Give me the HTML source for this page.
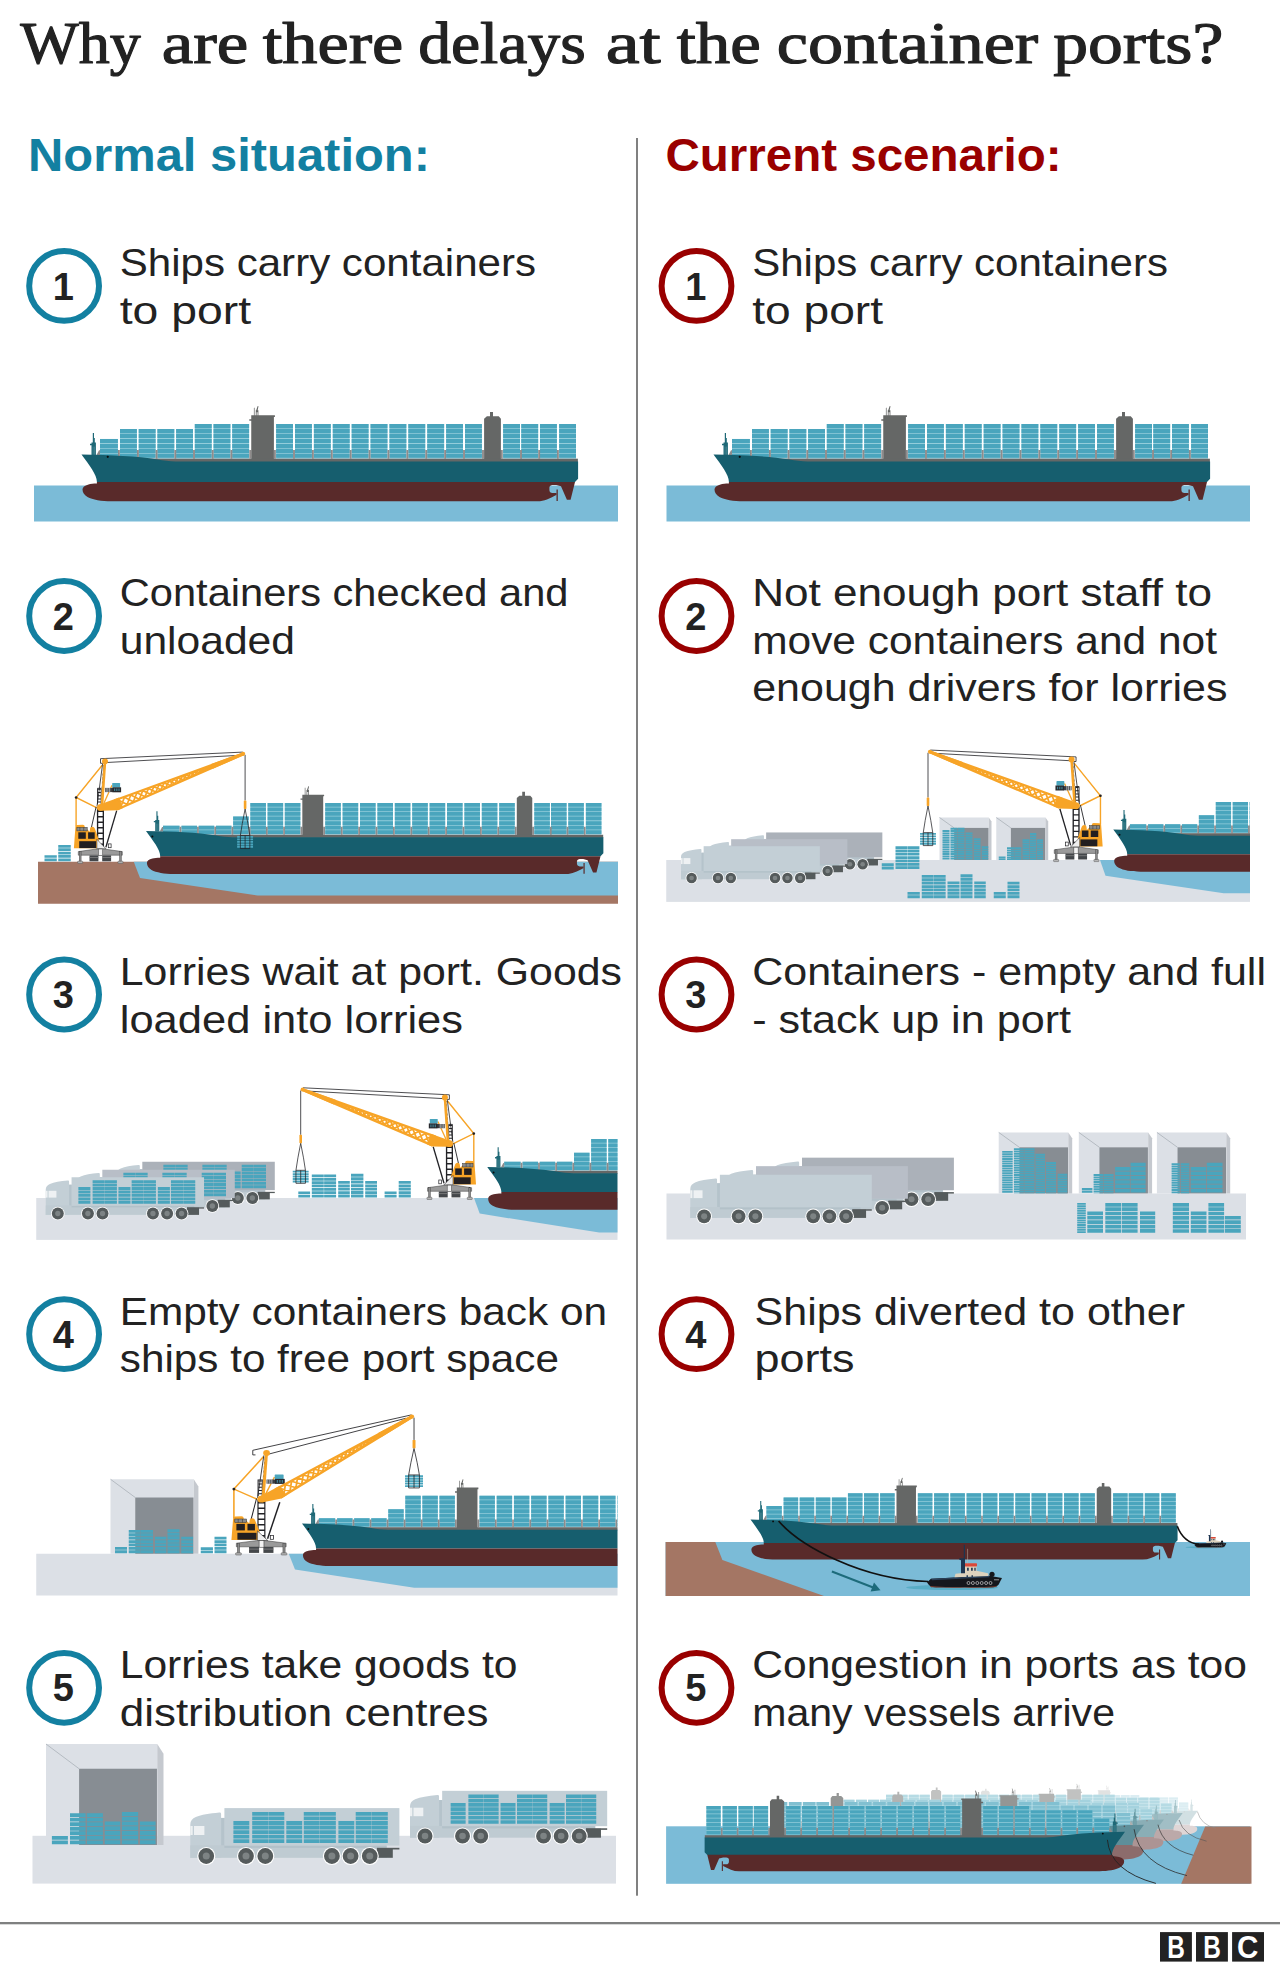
<!DOCTYPE html>
<html lang="en"><head><meta charset="utf-8"><title>Why are there delays at the container ports?</title>
<style>
html,body{margin:0;padding:0;background:#fff}
body{width:1280px;height:1968px;overflow:hidden;position:relative}
svg{display:block;position:absolute;left:0;top:0}
</style></head><body>
<svg width="1280" height="1968" viewBox="0 0 1280 1968">
<defs>
<filter id="fog1" x="0" y="0" width="1" height="1" color-interpolation-filters="sRGB"><feComponentTransfer><feFuncR type="linear" slope="0.69" intercept="0.31"/><feFuncG type="linear" slope="0.69" intercept="0.31"/><feFuncB type="linear" slope="0.69" intercept="0.31"/></feComponentTransfer></filter>
<filter id="fog2" x="0" y="0" width="1" height="1" color-interpolation-filters="sRGB"><feComponentTransfer><feFuncR type="linear" slope="0.5" intercept="0.5"/><feFuncG type="linear" slope="0.5" intercept="0.5"/><feFuncB type="linear" slope="0.5" intercept="0.5"/></feComponentTransfer></filter>
<filter id="fog3" x="0" y="0" width="1" height="1" color-interpolation-filters="sRGB"><feComponentTransfer><feFuncR type="linear" slope="0.4" intercept="0.6"/><feFuncG type="linear" slope="0.4" intercept="0.6"/><feFuncB type="linear" slope="0.4" intercept="0.6"/></feComponentTransfer></filter>
<filter id="fog4" x="0" y="0" width="1" height="1" color-interpolation-filters="sRGB"><feComponentTransfer><feFuncR type="linear" slope="0.19" intercept="0.81"/><feFuncG type="linear" slope="0.19" intercept="0.81"/><feFuncB type="linear" slope="0.19" intercept="0.81"/></feComponentTransfer></filter>
<clipPath id="c2r"><rect x="600" y="700" width="650" height="300"/></clipPath>
<clipPath id="c3l"><rect x="0" y="1050" width="617.5" height="250"/></clipPath>
<clipPath id="c4l"><rect x="0" y="1380" width="617.5" height="250"/></clipPath>
</defs>
<rect x="636" y="138" width="2" height="1757.7" fill="#808080"/>
<rect x="0" y="1922" width="1280" height="2.3" fill="#7f8080"/>
<text y="62.5" font-family='"Liberation Serif", serif' font-size="60" fill="#222" stroke="#222" stroke-width="1.15" stroke-linejoin="round"><tspan x="20.2" textLength="120.6" lengthAdjust="spacingAndGlyphs">Why</tspan> <tspan x="161.7" textLength="86.6" lengthAdjust="spacingAndGlyphs">are</tspan> <tspan x="262.7" textLength="140.6" lengthAdjust="spacingAndGlyphs">there</tspan> <tspan x="418.2" textLength="167.6" lengthAdjust="spacingAndGlyphs">delays</tspan> <tspan x="605.7" textLength="55.1" lengthAdjust="spacingAndGlyphs">at</tspan> <tspan x="676.7" textLength="84.1" lengthAdjust="spacingAndGlyphs">the</tspan> <tspan x="776.7" textLength="261.6" lengthAdjust="spacingAndGlyphs">container</tspan> <tspan x="1053.2" textLength="170.1" lengthAdjust="spacingAndGlyphs">ports?</tspan></text>
<text x="28" y="171.3" font-family='"Liberation Sans", sans-serif' font-size="46" fill="#1380a1" textLength="402" lengthAdjust="spacingAndGlyphs" font-weight="bold">Normal situation:</text>
<text x="665.5" y="171.3" font-family='"Liberation Sans", sans-serif' font-size="46" fill="#990000" textLength="396" lengthAdjust="spacingAndGlyphs" font-weight="bold">Current scenario:</text>
<circle cx="64.1" cy="285.9" r="34.9" fill="#fff" stroke="#1380a1" stroke-width="6"/>
<text x="63.3" y="299.5" font-family='"Liberation Sans", sans-serif' font-size="38" fill="#222222" text-anchor="middle" font-weight="bold">1</text>
<circle cx="696.5" cy="285.9" r="34.9" fill="#fff" stroke="#990000" stroke-width="6"/>
<text x="695.7" y="299.5" font-family='"Liberation Sans", sans-serif' font-size="38" fill="#222222" text-anchor="middle" font-weight="bold">1</text>
<circle cx="64.1" cy="616" r="34.9" fill="#fff" stroke="#1380a1" stroke-width="6"/>
<text x="63.3" y="629.6" font-family='"Liberation Sans", sans-serif' font-size="38" fill="#222222" text-anchor="middle" font-weight="bold">2</text>
<circle cx="696.5" cy="616" r="34.9" fill="#fff" stroke="#990000" stroke-width="6"/>
<text x="695.7" y="629.6" font-family='"Liberation Sans", sans-serif' font-size="38" fill="#222222" text-anchor="middle" font-weight="bold">2</text>
<circle cx="64.1" cy="994.5" r="34.9" fill="#fff" stroke="#1380a1" stroke-width="6"/>
<text x="63.3" y="1008.1" font-family='"Liberation Sans", sans-serif' font-size="38" fill="#222222" text-anchor="middle" font-weight="bold">3</text>
<circle cx="696.5" cy="994.5" r="34.9" fill="#fff" stroke="#990000" stroke-width="6"/>
<text x="695.7" y="1008.1" font-family='"Liberation Sans", sans-serif' font-size="38" fill="#222222" text-anchor="middle" font-weight="bold">3</text>
<circle cx="64.1" cy="1334.2" r="34.9" fill="#fff" stroke="#1380a1" stroke-width="6"/>
<text x="63.3" y="1347.8" font-family='"Liberation Sans", sans-serif' font-size="38" fill="#222222" text-anchor="middle" font-weight="bold">4</text>
<circle cx="696.5" cy="1334.2" r="34.9" fill="#fff" stroke="#990000" stroke-width="6"/>
<text x="695.7" y="1347.8" font-family='"Liberation Sans", sans-serif' font-size="38" fill="#222222" text-anchor="middle" font-weight="bold">4</text>
<circle cx="64.1" cy="1687.8" r="34.9" fill="#fff" stroke="#1380a1" stroke-width="6"/>
<text x="63.3" y="1701.4" font-family='"Liberation Sans", sans-serif' font-size="38" fill="#222222" text-anchor="middle" font-weight="bold">5</text>
<circle cx="696.5" cy="1687.8" r="34.9" fill="#fff" stroke="#990000" stroke-width="6"/>
<text x="695.7" y="1701.4" font-family='"Liberation Sans", sans-serif' font-size="38" fill="#222222" text-anchor="middle" font-weight="bold">5</text>
<text x="119.75" y="276.25" font-family='"Liberation Sans", sans-serif' font-size="39.5" fill="#222222" textLength="416.25" lengthAdjust="spacingAndGlyphs">Ships carry containers</text>
<text x="119.75" y="323.75" font-family='"Liberation Sans", sans-serif' font-size="39.5" fill="#222222" textLength="131.25" lengthAdjust="spacingAndGlyphs">to port</text>
<text x="119.75" y="606.3" font-family='"Liberation Sans", sans-serif' font-size="39.5" fill="#222222" textLength="448.75" lengthAdjust="spacingAndGlyphs">Containers checked and</text>
<text x="119.75" y="653.8" font-family='"Liberation Sans", sans-serif' font-size="39.5" fill="#222222" textLength="175.25" lengthAdjust="spacingAndGlyphs">unloaded</text>
<text x="119.75" y="985.2" font-family='"Liberation Sans", sans-serif' font-size="39.5" fill="#222222" textLength="502.25" lengthAdjust="spacingAndGlyphs">Lorries wait at port. Goods</text>
<text x="119.75" y="1032.7" font-family='"Liberation Sans", sans-serif' font-size="39.5" fill="#222222" textLength="343.25" lengthAdjust="spacingAndGlyphs">loaded into lorries</text>
<text x="119.75" y="1324.5" font-family='"Liberation Sans", sans-serif' font-size="39.5" fill="#222222" textLength="487.25" lengthAdjust="spacingAndGlyphs">Empty containers back on</text>
<text x="119.75" y="1372" font-family='"Liberation Sans", sans-serif' font-size="39.5" fill="#222222" textLength="439.25" lengthAdjust="spacingAndGlyphs">ships to free port space</text>
<text x="119.75" y="1678" font-family='"Liberation Sans", sans-serif' font-size="39.5" fill="#222222" textLength="397.75" lengthAdjust="spacingAndGlyphs">Lorries take goods to</text>
<text x="119.75" y="1725.5" font-family='"Liberation Sans", sans-serif' font-size="39.5" fill="#222222" textLength="368.75" lengthAdjust="spacingAndGlyphs">distribution centres</text>
<text x="752.2" y="276.25" font-family='"Liberation Sans", sans-serif' font-size="39.5" fill="#222222" textLength="415.8" lengthAdjust="spacingAndGlyphs">Ships carry containers</text>
<text x="752.2" y="323.75" font-family='"Liberation Sans", sans-serif' font-size="39.5" fill="#222222" textLength="130.8" lengthAdjust="spacingAndGlyphs">to port</text>
<text x="752.2" y="606.3" font-family='"Liberation Sans", sans-serif' font-size="39.5" fill="#222222" textLength="459.8" lengthAdjust="spacingAndGlyphs">Not enough port staff to</text>
<text x="752.2" y="653.8" font-family='"Liberation Sans", sans-serif' font-size="39.5" fill="#222222" textLength="464.8" lengthAdjust="spacingAndGlyphs">move containers and not</text>
<text x="752.2" y="701.3" font-family='"Liberation Sans", sans-serif' font-size="39.5" fill="#222222" textLength="475.3" lengthAdjust="spacingAndGlyphs">enough drivers for lorries</text>
<text x="752.2" y="985.2" font-family='"Liberation Sans", sans-serif' font-size="39.5" fill="#222222" textLength="513.8" lengthAdjust="spacingAndGlyphs">Containers - empty and full</text>
<text x="752.2" y="1032.7" font-family='"Liberation Sans", sans-serif' font-size="39.5" fill="#222222" textLength="318.8" lengthAdjust="spacingAndGlyphs">- stack up in port</text>
<text x="754.5" y="1324.5" font-family='"Liberation Sans", sans-serif' font-size="39.5" fill="#222222" textLength="430.5" lengthAdjust="spacingAndGlyphs">Ships diverted to other</text>
<text x="754.5" y="1372" font-family='"Liberation Sans", sans-serif' font-size="39.5" fill="#222222" textLength="100" lengthAdjust="spacingAndGlyphs">ports</text>
<text x="752.2" y="1678" font-family='"Liberation Sans", sans-serif' font-size="39.5" fill="#222222" textLength="494.8" lengthAdjust="spacingAndGlyphs">Congestion in ports as too</text>
<text x="752.2" y="1725.5" font-family='"Liberation Sans", sans-serif' font-size="39.5" fill="#222222" textLength="362.8" lengthAdjust="spacingAndGlyphs">many vessels arrive</text>
<rect x="34" y="485.5" width="584" height="36" fill="#7bbbd7"/>
<g transform="translate(81.5,454.6) scale(1.0000,1.0000)"><g><path d="M27.45,-15.66v19.76" stroke="#93cddb" stroke-width="17.9" fill="none"/><path d="M27.45,-15.66v19.76" stroke="#4aa5bd" stroke-width="17.9" stroke-dasharray="4.09 0.85" fill="none"/><path d="M46.95,-25.54v29.64M65.65,-25.54v29.64M84.35,-25.54v29.64M103.05,-25.54v29.64M121.75,-30.48v34.58M140.45,-30.48v34.58M159.15,-30.48v34.58M203.05,-30.48v34.58M221.94,-30.48v34.58M240.83,-30.48v34.58M259.72,-30.48v34.58M278.61,-30.48v34.58M297.5,-30.48v34.58M316.39,-30.48v34.58M335.28,-30.48v34.58M354.17,-30.48v34.58M373.06,-30.48v34.58M391.95,-30.48v34.58M430.05,-30.48v34.58M448.2,-30.48v34.58M466.95,-30.48v34.58M486.05,-30.48v34.58" stroke="#93cddb" stroke-width="16.9" fill="none"/><path d="M46.95,-25.54v29.64M65.65,-25.54v29.64M84.35,-25.54v29.64M103.05,-25.54v29.64M121.75,-30.48v34.58M140.45,-30.48v34.58M159.15,-30.48v34.58M203.05,-30.48v34.58M221.94,-30.48v34.58M240.83,-30.48v34.58M259.72,-30.48v34.58M278.61,-30.48v34.58M297.5,-30.48v34.58M316.39,-30.48v34.58M335.28,-30.48v34.58M354.17,-30.48v34.58M373.06,-30.48v34.58M391.95,-30.48v34.58M430.05,-30.48v34.58M448.2,-30.48v34.58M466.95,-30.48v34.58M486.05,-30.48v34.58" stroke="#4aa5bd" stroke-width="16.9" stroke-dasharray="4.09 0.85" fill="none"/><path d="M37.4,-4.5v8.6M56.4,-4.5v8.6M75.1,-4.5v8.6M93.8,-4.5v8.6M112.5,-4.5v8.6M131.2,-4.5v8.6M149.9,-4.5v8.6M212.5,-4.5v8.6M231.39,-4.5v8.6M250.28,-4.5v8.6M269.17,-4.5v8.6M288.06,-4.5v8.6M306.95,-4.5v8.6M325.84,-4.5v8.6M344.73,-4.5v8.6M363.62,-4.5v8.6M382.51,-4.5v8.6M439.5,-4.5v8.6M457.65,-4.5v8.6M476.4,-4.5v8.6M168.75,-4.5v8.6M193.4,-4.5v8.6M401.5,-4.5v8.6M420.3,-4.5v8.6" stroke="#8f8b8b" stroke-width="1.9" fill="none"/><path d="M169.75,6 V-39.4 H193.4 V-37.6 H192.4 V6 Z M167.8,-35.4 h2 v1.6 h-2z M172.4,-39.4 v-7.5 h0.7 v7.5z M174.3,-39.4 v-5 h2.6 v5 h-0.8 v-3 h-1 v3z M174.6,-44 l1.6,-4.6 l0.8,0.3 l-1,4.6z" fill="#656766"/><path d="M402.6,6 V-35.85 L405.4,-38.35 H408.5 V-42.5 H411.5 V-38.35 H417.25 L419.4,-35.85 V6 Z" fill="#656766"/><path d="M11.3,-11 V-21.5 H12.5 V-16.5 H13.3 V-12 H14.4 V0.5 H10 V-9.4 H8.5 V-10.8 H10 V-12 H11.3Z" fill="#1f6977"/><path d="M11.6,-8 V0.3 M13,-8 V0.3" stroke="#5f97a2" stroke-width="0.5"/><path d="M14.9,0.6 L17.5,-4.4 H18.5 V0.6Z" fill="#8f8b8b"/><rect x="60" y="4.1" width="436.4" height="3.4" fill="#656766"/><path d="M0,0 C30,0.5 55,1.5 76,5 C82,6 88,6.8 94,6.9 L496.6,6.9 L496.6,24.2 L493.5,27.4 L15.4,27.4 C15.6,20.5 8,11 0,0Z" fill="#165e6e"/><path d="M15.4,27.3 L15.4,29 C12,29 9,29.3 7,29.8 C3,30.8 1,32.5 1,34.8 C1,38 3,40.5 6,42.3 C11,45 20,46.65 30,46.65 L456,46.65 C463,46.65 468,44 474.75,40.4 L474.75,38.5 L471,38.5 C469,38.5 467.9,37 467.9,35.4 L467.9,32.9 C467.9,31.5 469.5,30.4 471,30.4 L474.75,30.4 L479.5,31.65 L485.4,45.15 L489.1,45.15 L493.5,27.3 Z M475,34.8 h1.3 v11.6 h-1.3z" fill="#592a2a"/><circle cx="26.25" cy="2.2" r="1.1" fill="#0b0b0b"/></g></g>
<rect x="666.5" y="485.5" width="583.5" height="36" fill="#7bbbd7"/>
<g transform="translate(713.5,454.6) scale(1.0000,1.0000)"><g><path d="M27.45,-15.66v19.76" stroke="#93cddb" stroke-width="17.9" fill="none"/><path d="M27.45,-15.66v19.76" stroke="#4aa5bd" stroke-width="17.9" stroke-dasharray="4.09 0.85" fill="none"/><path d="M46.95,-25.54v29.64M65.65,-25.54v29.64M84.35,-25.54v29.64M103.05,-25.54v29.64M121.75,-30.48v34.58M140.45,-30.48v34.58M159.15,-30.48v34.58M203.05,-30.48v34.58M221.94,-30.48v34.58M240.83,-30.48v34.58M259.72,-30.48v34.58M278.61,-30.48v34.58M297.5,-30.48v34.58M316.39,-30.48v34.58M335.28,-30.48v34.58M354.17,-30.48v34.58M373.06,-30.48v34.58M391.95,-30.48v34.58M430.05,-30.48v34.58M448.2,-30.48v34.58M466.95,-30.48v34.58M486.05,-30.48v34.58" stroke="#93cddb" stroke-width="16.9" fill="none"/><path d="M46.95,-25.54v29.64M65.65,-25.54v29.64M84.35,-25.54v29.64M103.05,-25.54v29.64M121.75,-30.48v34.58M140.45,-30.48v34.58M159.15,-30.48v34.58M203.05,-30.48v34.58M221.94,-30.48v34.58M240.83,-30.48v34.58M259.72,-30.48v34.58M278.61,-30.48v34.58M297.5,-30.48v34.58M316.39,-30.48v34.58M335.28,-30.48v34.58M354.17,-30.48v34.58M373.06,-30.48v34.58M391.95,-30.48v34.58M430.05,-30.48v34.58M448.2,-30.48v34.58M466.95,-30.48v34.58M486.05,-30.48v34.58" stroke="#4aa5bd" stroke-width="16.9" stroke-dasharray="4.09 0.85" fill="none"/><path d="M37.4,-4.5v8.6M56.4,-4.5v8.6M75.1,-4.5v8.6M93.8,-4.5v8.6M112.5,-4.5v8.6M131.2,-4.5v8.6M149.9,-4.5v8.6M212.5,-4.5v8.6M231.39,-4.5v8.6M250.28,-4.5v8.6M269.17,-4.5v8.6M288.06,-4.5v8.6M306.95,-4.5v8.6M325.84,-4.5v8.6M344.73,-4.5v8.6M363.62,-4.5v8.6M382.51,-4.5v8.6M439.5,-4.5v8.6M457.65,-4.5v8.6M476.4,-4.5v8.6M168.75,-4.5v8.6M193.4,-4.5v8.6M401.5,-4.5v8.6M420.3,-4.5v8.6" stroke="#8f8b8b" stroke-width="1.9" fill="none"/><path d="M169.75,6 V-39.4 H193.4 V-37.6 H192.4 V6 Z M167.8,-35.4 h2 v1.6 h-2z M172.4,-39.4 v-7.5 h0.7 v7.5z M174.3,-39.4 v-5 h2.6 v5 h-0.8 v-3 h-1 v3z M174.6,-44 l1.6,-4.6 l0.8,0.3 l-1,4.6z" fill="#656766"/><path d="M402.6,6 V-35.85 L405.4,-38.35 H408.5 V-42.5 H411.5 V-38.35 H417.25 L419.4,-35.85 V6 Z" fill="#656766"/><path d="M11.3,-11 V-21.5 H12.5 V-16.5 H13.3 V-12 H14.4 V0.5 H10 V-9.4 H8.5 V-10.8 H10 V-12 H11.3Z" fill="#1f6977"/><path d="M11.6,-8 V0.3 M13,-8 V0.3" stroke="#5f97a2" stroke-width="0.5"/><path d="M14.9,0.6 L17.5,-4.4 H18.5 V0.6Z" fill="#8f8b8b"/><rect x="60" y="4.1" width="436.4" height="3.4" fill="#656766"/><path d="M0,0 C30,0.5 55,1.5 76,5 C82,6 88,6.8 94,6.9 L496.6,6.9 L496.6,24.2 L493.5,27.4 L15.4,27.4 C15.6,20.5 8,11 0,0Z" fill="#165e6e"/><path d="M15.4,27.3 L15.4,29 C12,29 9,29.3 7,29.8 C3,30.8 1,32.5 1,34.8 C1,38 3,40.5 6,42.3 C11,45 20,46.65 30,46.65 L456,46.65 C463,46.65 468,44 474.75,40.4 L474.75,38.5 L471,38.5 C469,38.5 467.9,37 467.9,35.4 L467.9,32.9 C467.9,31.5 469.5,30.4 471,30.4 L474.75,30.4 L479.5,31.65 L485.4,45.15 L489.1,45.15 L493.5,27.3 Z M475,34.8 h1.3 v11.6 h-1.3z" fill="#592a2a"/><circle cx="26.25" cy="2.2" r="1.1" fill="#0b0b0b"/></g></g>
<rect x="38" y="861.75" width="580" height="42" fill="#a47664"/>
<path d="M133.75,861.75 L140,878 L257.5,895.5 H618 V861.75Z" fill="#7bbbd7"/>
<g transform="translate(146,831) scale(0.9210,0.9210)"><g><path d="M27.45,-5.78v9.88" stroke="#93cddb" stroke-width="17.9" fill="none"/><path d="M27.45,-5.78v9.88" stroke="#4aa5bd" stroke-width="17.9" stroke-dasharray="4.09 0.85" fill="none"/><path d="M46.95,-5.78v9.88M65.65,-5.78v9.88M84.35,-5.78v9.88M103.05,-15.66v19.76M121.75,-30.48v34.58M140.45,-30.48v34.58M159.15,-30.48v34.58M203.05,-30.48v34.58M221.94,-30.48v34.58M240.83,-30.48v34.58M259.72,-30.48v34.58M278.61,-30.48v34.58M297.5,-30.48v34.58M316.39,-30.48v34.58M335.28,-30.48v34.58M354.17,-30.48v34.58M373.06,-30.48v34.58M391.95,-30.48v34.58M430.05,-30.48v34.58M448.2,-30.48v34.58M466.95,-30.48v34.58M486.05,-30.48v34.58" stroke="#93cddb" stroke-width="16.9" fill="none"/><path d="M46.95,-5.78v9.88M65.65,-5.78v9.88M84.35,-5.78v9.88M103.05,-15.66v19.76M121.75,-30.48v34.58M140.45,-30.48v34.58M159.15,-30.48v34.58M203.05,-30.48v34.58M221.94,-30.48v34.58M240.83,-30.48v34.58M259.72,-30.48v34.58M278.61,-30.48v34.58M297.5,-30.48v34.58M316.39,-30.48v34.58M335.28,-30.48v34.58M354.17,-30.48v34.58M373.06,-30.48v34.58M391.95,-30.48v34.58M430.05,-30.48v34.58M448.2,-30.48v34.58M466.95,-30.48v34.58M486.05,-30.48v34.58" stroke="#4aa5bd" stroke-width="16.9" stroke-dasharray="4.09 0.85" fill="none"/><path d="M37.4,-4.5v8.6M56.4,-4.5v8.6M75.1,-4.5v8.6M93.8,-4.5v8.6M112.5,-4.5v8.6M131.2,-4.5v8.6M149.9,-4.5v8.6M212.5,-4.5v8.6M231.39,-4.5v8.6M250.28,-4.5v8.6M269.17,-4.5v8.6M288.06,-4.5v8.6M306.95,-4.5v8.6M325.84,-4.5v8.6M344.73,-4.5v8.6M363.62,-4.5v8.6M382.51,-4.5v8.6M439.5,-4.5v8.6M457.65,-4.5v8.6M476.4,-4.5v8.6M168.75,-4.5v8.6M193.4,-4.5v8.6M401.5,-4.5v8.6M420.3,-4.5v8.6" stroke="#8f8b8b" stroke-width="1.9" fill="none"/><path d="M169.75,6 V-39.4 H193.4 V-37.6 H192.4 V6 Z M167.8,-35.4 h2 v1.6 h-2z M172.4,-39.4 v-7.5 h0.7 v7.5z M174.3,-39.4 v-5 h2.6 v5 h-0.8 v-3 h-1 v3z M174.6,-44 l1.6,-4.6 l0.8,0.3 l-1,4.6z" fill="#656766"/><path d="M402.6,6 V-35.85 L405.4,-38.35 H408.5 V-42.5 H411.5 V-38.35 H417.25 L419.4,-35.85 V6 Z" fill="#656766"/><path d="M11.3,-11 V-21.5 H12.5 V-16.5 H13.3 V-12 H14.4 V0.5 H10 V-9.4 H8.5 V-10.8 H10 V-12 H11.3Z" fill="#1f6977"/><path d="M11.6,-8 V0.3 M13,-8 V0.3" stroke="#5f97a2" stroke-width="0.5"/><path d="M14.9,0.6 L17.5,-4.4 H18.5 V0.6Z" fill="#8f8b8b"/><rect x="60" y="4.1" width="436.4" height="3.4" fill="#656766"/><path d="M0,0 C30,0.5 55,1.5 76,5 C82,6 88,6.8 94,6.9 L496.6,6.9 L496.6,24.2 L493.5,27.4 L15.4,27.4 C15.6,20.5 8,11 0,0Z" fill="#165e6e"/><path d="M15.4,27.3 L15.4,29 C12,29 9,29.3 7,29.8 C3,30.8 1,32.5 1,34.8 C1,38 3,40.5 6,42.3 C11,45 20,46.65 30,46.65 L456,46.65 C463,46.65 468,44 474.75,40.4 L474.75,38.5 L471,38.5 C469,38.5 467.9,37 467.9,35.4 L467.9,32.9 C467.9,31.5 469.5,30.4 471,30.4 L474.75,30.4 L479.5,31.65 L485.4,45.15 L489.1,45.15 L493.5,27.3 Z M475,34.8 h1.3 v11.6 h-1.3z" fill="#592a2a"/><circle cx="6.9" cy="5.9" r="1.1" fill="#0b0b0b"/></g></g>
<path d="M50.65,855.15v6.6" stroke="#4aa5bd" stroke-width="12.3" stroke-dasharray="2.7 0.6" fill="none"/><path d="M64.5,845v16.75" stroke="#4aa5bd" stroke-width="12.5" stroke-dasharray="2.75 0.6" fill="none"/>
<g transform="translate(100.3,807.3) scale(1,1)"><path d="M2.6,-44 H0.2 V-48.6 L142.5,-55.2 M6.6,-44.8 L137.8,-51.9" stroke="#222226" stroke-width="0.8" fill="none"/><path d="M144.8,-52.5 V-6.8" stroke="#222226" stroke-width="0.8" fill="none"/><path d="M144.8,28.7v12.3" stroke="#4aa5bd" stroke-width="15.9" stroke-dasharray="1.86 0.6" fill="none"/><path d="M144.8,1.6 Q141.6,17.15 140.05,28.3 V41.3 H149.55 V28.3 Q148,17.15 144.8,1.6 M140.05,28.3 H149.55 M144.8,28.3 V41.3" stroke="#222226" stroke-width="0.75" fill="none"/><rect x="143.5" y="-6.8" width="2.6" height="8.4" rx="0.6" fill="#f7a427"/><path d="M1.9,-42.1 L-24.2,-9.8 L-3.3,0.5 M-24.2,-9.8 V19" stroke="#f7a427" stroke-width="1.4" fill="none"/><path d="M-4.2,-0.4 L-8.9,20.2" stroke="#222226" stroke-width="0.9" fill="none"/><path d="M16.4,3.3 L5.6,39.9" stroke="#222226" stroke-width="1.3" fill="none"/><path d="M2.3,-43.5 L-3.3,-1" stroke="#222226" stroke-width="0.8" fill="none"/><path d="M3.7,-42 L2.1,-19" stroke="#222226" stroke-width="1.7" stroke-dasharray="0.6 0.7" fill="none"/><path d="M-2.8,-3 V-19 H0.9 V-3" stroke="#222226" stroke-width="0.9" fill="none"/><path d="M-0.95,-18.5 V-3" stroke="#222226" stroke-width="3" stroke-dasharray="1 2.2" fill="none"/><rect x="-3.4" y="1" width="7.1" height="40" fill="#222226"/><path d="M0.15,4.6 V41" stroke="#fff" stroke-width="4.4" stroke-dasharray="4.1 1.4" fill="none"/><path d="M11.7,-22 L3.7,-4.3" stroke="#f7a427" stroke-width="1.3" fill="none"/><rect x="4.7" y="-19.4" width="8" height="4.2" fill="#3a3d42"/><path d="M5.8,-19.4v4.2 M7.6,-19.4v4.2 M9.4,-19.4v4.2" stroke="#fff" stroke-width="0.6"/><rect x="11.9" y="-24.4" width="7.9" height="4.6" rx="0.6" fill="#4aa5bd"/><rect x="12.2" y="-20" width="8.6" height="5" fill="#26282d"/><path d="M14.3,-18.8v2.6 M16.5,-18.8v2.6 M18.7,-18.8v2.6" stroke="#3f7f92" stroke-width="1.2"/><path d="M4.7,-45.9 L1.6,-0.5" stroke="#f7a427" stroke-width="2.6" fill="none"/><circle cx="4.7" cy="-45.9" r="3" fill="#f7a427"/><path d="M-1.5,-2.5 L2.76,-4.03 L18.77,-9.76 L22.68,0.69 L17.67,2.99 L1.5,3.4 L-2.5,1.5 Z" fill="#f7a427"/><path d="M14.01,-6.8 L142.75,-53.64 M17.27,1.91 L142.96,-53.08" stroke="#f7a427" stroke-width="2.3" fill="none"/><path d="M17.46,-7.56 L26.79,-2.75 L30.45,-12.29 L38.98,-8.09 L42.45,-16.66 L50.23,-13.01 L53.52,-20.68 L60.61,-17.55 L63.73,-24.4 L70.19,-21.74 L73.16,-27.83 L79.03,-25.61 L81.85,-30.99 L87.19,-29.18 L89.88,-33.91 L94.71,-32.47 L97.29,-36.61 L101.66,-35.51 L104.12,-39.1 L108.07,-38.32 L110.43,-41.39 L113.98,-40.9 L116.25,-43.51 L119.44,-43.29 L121.62,-45.46 L124.48,-45.5 L126.58,-47.27 L129.13,-47.53 L131.15,-48.93 L133.42,-49.41 L135.37,-50.47 L137.38,-51.14 L139.27,-51.88 L141.03,-52.74 M20.32,0.08 L24.09,-9.97 L33.01,-5.47 L36.57,-14.52 L44.72,-10.6 L48.09,-18.71 L55.52,-15.33 L58.73,-22.58 L65.5,-19.69 L68.54,-26.15 L74.7,-23.71 L77.59,-29.44 L83.19,-27.43 L85.95,-32.48 L91.02,-30.86 L93.66,-35.29 L98.26,-34.02 L100.77,-37.88 L104.93,-36.94 L107.34,-40.27 L111.09,-39.64 L113.4,-42.47 L116.77,-42.12 L118.99,-44.51 L122.01,-44.42 L124.15,-46.38 L126.85,-46.53 L128.91,-48.12 L131.32,-48.49 L133.3,-49.71 L135.44,-50.29 L137.36,-51.19 L139.24,-51.95 L141.1,-52.55" stroke="#f7a427" stroke-width="1.7" stroke-linejoin="round" fill="none"/><path d="M110.82,-43.25 L140.47,-54.02 L143.15,-54.27 L143.74,-52.14 L112.58,-38.53 Z" fill="#f7a427"/><circle cx="142.8" cy="-53.5" r="2.1" fill="#f7a427"/><circle cx="0" cy="0.3" r="3.4" fill="#f7a427"/><path d="M-26.4,41 L-24.9,19.6 C-24.9,18.6 -24.3,17.8 -23,17.7 L-17.5,17.4 C-16.3,17.4 -15.6,18.2 -15.6,19.6 L-10.6,24.4 L-10.3,21.8 C-10.2,20.2 -9.2,19.4 -8,19.4 C-6.5,19.4 -5.6,20.3 -5.3,21.8 L-1.5,32.5 L-2.8,41 Z" fill="#f7a427"/><rect x="-23.4" y="20.1" width="10.3" height="3.5" fill="#8a8a8a" stroke="#333" stroke-width="0.5"/><path d="M-20.4,20.1v3.5 M-16.6,20.1v3.5" stroke="#333" stroke-width="0.5"/><rect x="-22" y="25" width="7.5" height="6.5" fill="#231f20"/><rect x="-12.2" y="25" width="6.6" height="6.5" fill="#231f20"/><rect x="-21.1" y="33.9" width="16.9" height="6.9" fill="#231f20"/><path d="M-3.4,32 L-3.4,41.6 H5.8 Z" fill="#eee" stroke="#222226" stroke-width="0.5"/><rect x="8" y="36.6" width="2.8" height="3.8" fill="#fff" stroke="#222226" stroke-width="0.7"/><path d="M-22,44.3 L-4,41.7 H3.5 L22,44.3 V47.9 H-22Z" fill="#9a9a9a" stroke="#3a3a3a" stroke-width="0.5"/><rect x="-1.9" y="41.7" width="4.3" height="6.6" fill="#f4f4f4" stroke="#3a3a3a" stroke-width="0.5"/><rect x="-10.8" y="48.1" width="8.9" height="5.9" fill="#44474a"/><rect x="1.9" y="48.1" width="8.9" height="5.9" fill="#44474a"/><path d="M-10.8,50.2h8.9 M1.9,50.2h8.9" stroke="#8a8a8a" stroke-width="0.7"/><rect x="-21.1" y="44.3" width="1.9" height="10" fill="#8a8a8a" stroke="#3a3a3a" stroke-width="0.4"/><rect x="-22.65" y="53.9" width="5" height="2.2" rx="0.5" fill="#b5b5b5" stroke="#3a3a3a" stroke-width="0.4"/><rect x="19.2" y="44.3" width="1.9" height="10" fill="#8a8a8a" stroke="#3a3a3a" stroke-width="0.4"/><rect x="17.65" y="53.9" width="5" height="2.2" rx="0.5" fill="#b5b5b5" stroke="#3a3a3a" stroke-width="0.4"/><circle cx="-24.2" cy="-9.8" r="1.3" fill="#222226"/></g>
<rect x="666.25" y="860" width="583.75" height="41.9" fill="#dce0e6"/>
<path d="M1100,860 L1105.5,875.75 L1223.75,893.25 H1250 V860Z" fill="#7bbbd7"/>
<g clip-path="url(#c2r)">
<g transform="translate(1113.25,829.5) scale(0.9050,0.9050)"><g><path d="M27.45,-5.78v9.88" stroke="#93cddb" stroke-width="17.9" fill="none"/><path d="M27.45,-5.78v9.88" stroke="#4aa5bd" stroke-width="17.9" stroke-dasharray="4.09 0.85" fill="none"/><path d="M46.95,-5.78v9.88M65.65,-5.78v9.88M84.35,-5.78v9.88M103.05,-15.66v19.76M121.75,-30.48v34.58M140.45,-30.48v34.58M159.15,-30.48v34.58M203.05,-30.48v34.58M221.94,-30.48v34.58M240.83,-30.48v34.58M259.72,-30.48v34.58M278.61,-30.48v34.58M297.5,-30.48v34.58M316.39,-30.48v34.58M335.28,-30.48v34.58M354.17,-30.48v34.58M373.06,-30.48v34.58M391.95,-30.48v34.58M430.05,-30.48v34.58M448.2,-30.48v34.58M466.95,-30.48v34.58M486.05,-30.48v34.58" stroke="#93cddb" stroke-width="16.9" fill="none"/><path d="M46.95,-5.78v9.88M65.65,-5.78v9.88M84.35,-5.78v9.88M103.05,-15.66v19.76M121.75,-30.48v34.58M140.45,-30.48v34.58M159.15,-30.48v34.58M203.05,-30.48v34.58M221.94,-30.48v34.58M240.83,-30.48v34.58M259.72,-30.48v34.58M278.61,-30.48v34.58M297.5,-30.48v34.58M316.39,-30.48v34.58M335.28,-30.48v34.58M354.17,-30.48v34.58M373.06,-30.48v34.58M391.95,-30.48v34.58M430.05,-30.48v34.58M448.2,-30.48v34.58M466.95,-30.48v34.58M486.05,-30.48v34.58" stroke="#4aa5bd" stroke-width="16.9" stroke-dasharray="4.09 0.85" fill="none"/><path d="M37.4,-4.5v8.6M56.4,-4.5v8.6M75.1,-4.5v8.6M93.8,-4.5v8.6M112.5,-4.5v8.6M131.2,-4.5v8.6M149.9,-4.5v8.6M212.5,-4.5v8.6M231.39,-4.5v8.6M250.28,-4.5v8.6M269.17,-4.5v8.6M288.06,-4.5v8.6M306.95,-4.5v8.6M325.84,-4.5v8.6M344.73,-4.5v8.6M363.62,-4.5v8.6M382.51,-4.5v8.6M439.5,-4.5v8.6M457.65,-4.5v8.6M476.4,-4.5v8.6M168.75,-4.5v8.6M193.4,-4.5v8.6M401.5,-4.5v8.6M420.3,-4.5v8.6" stroke="#8f8b8b" stroke-width="1.9" fill="none"/><path d="M169.75,6 V-39.4 H193.4 V-37.6 H192.4 V6 Z M167.8,-35.4 h2 v1.6 h-2z M172.4,-39.4 v-7.5 h0.7 v7.5z M174.3,-39.4 v-5 h2.6 v5 h-0.8 v-3 h-1 v3z M174.6,-44 l1.6,-4.6 l0.8,0.3 l-1,4.6z" fill="#656766"/><path d="M402.6,6 V-35.85 L405.4,-38.35 H408.5 V-42.5 H411.5 V-38.35 H417.25 L419.4,-35.85 V6 Z" fill="#656766"/><path d="M11.3,-11 V-21.5 H12.5 V-16.5 H13.3 V-12 H14.4 V0.5 H10 V-9.4 H8.5 V-10.8 H10 V-12 H11.3Z" fill="#1f6977"/><path d="M11.6,-8 V0.3 M13,-8 V0.3" stroke="#5f97a2" stroke-width="0.5"/><path d="M14.9,0.6 L17.5,-4.4 H18.5 V0.6Z" fill="#8f8b8b"/><rect x="60" y="4.1" width="436.4" height="3.4" fill="#656766"/><path d="M0,0 C30,0.5 55,1.5 76,5 C82,6 88,6.8 94,6.9 L496.6,6.9 L496.6,24.2 L493.5,27.4 L15.4,27.4 C15.6,20.5 8,11 0,0Z" fill="#165e6e"/><path d="M15.4,27.3 L15.4,29 C12,29 9,29.3 7,29.8 C3,30.8 1,32.5 1,34.8 C1,38 3,40.5 6,42.3 C11,45 20,46.65 30,46.65 L456,46.65 C463,46.65 468,44 474.75,40.4 L474.75,38.5 L471,38.5 C469,38.5 467.9,37 467.9,35.4 L467.9,32.9 C467.9,31.5 469.5,30.4 471,30.4 L474.75,30.4 L479.5,31.65 L485.4,45.15 L489.1,45.15 L493.5,27.3 Z M475,34.8 h1.3 v11.6 h-1.3z" fill="#592a2a"/><circle cx="6.9" cy="5.9" r="1.1" fill="#0b0b0b"/></g></g>
</g>
<g transform="translate(743.5,869.5) scale(0.6640)"><path d="M0,-6.1 V-39.5 C0,-43.2 2,-45.4 5.5,-47 C11,-49.2 19,-50.5 29,-51.5 C30.3,-51.6 30.8,-51 30.8,-50 V-46 H34.5 V-18 H31 V-6.1 Z" fill="#c3cfd6"/><rect x="30.9" y="-46" width="3.6" height="28" fill="#b5c3cb"/><rect x="3.7" y="-37.9" width="10.4" height="9" fill="#eef1f3"/><rect x="0" y="-37.9" width="2.4" height="9" fill="#eef1f3"/><rect x="0" y="-13.5" width="7" height="7.4" fill="#ccd7dd"/><rect x="0" y="-18.6" width="196.6" height="12.5" fill="#bfcbd2"/><rect x="34.1" y="-18.6" width="162" height="2.6" fill="#b3c1c9"/><rect x="186.6" y="-15.7" width="15.9" height="9.6" fill="#555b5c"/><rect x="186.6" y="-16.1" width="22.5" height="1.7" fill="#555b5c"/><rect x="34.1" y="-55.8" width="175" height="37.5" fill="#abb1b9"/><circle cx="160.3" cy="-7.9" r="9.05" fill="#fff"/><circle cx="179.45" cy="-7.9" r="9.05" fill="#fff"/><circle cx="160.3" cy="-7.9" r="7.9" fill="#555b5c"/><circle cx="160.3" cy="-7.9" r="3.5" fill="#7d8384"/><circle cx="179.45" cy="-7.9" r="7.9" fill="#555b5c"/><circle cx="179.45" cy="-7.9" r="3.5" fill="#7d8384"/></g>
<g transform="translate(708.5,876.25) scale(0.6640)"><path d="M0,-6.1 V-39.5 C0,-43.2 2,-45.4 5.5,-47 C11,-49.2 19,-50.5 29,-51.5 C30.3,-51.6 30.8,-51 30.8,-50 V-46 H34.5 V-18 H31 V-6.1 Z" fill="#c3cfd6"/><rect x="30.9" y="-46" width="3.6" height="28" fill="#b5c3cb"/><rect x="3.7" y="-37.9" width="10.4" height="9" fill="#eef1f3"/><rect x="0" y="-37.9" width="2.4" height="9" fill="#eef1f3"/><rect x="0" y="-13.5" width="7" height="7.4" fill="#ccd7dd"/><rect x="0" y="-18.6" width="196.6" height="12.5" fill="#bfcbd2"/><rect x="34.1" y="-18.6" width="162" height="2.6" fill="#b3c1c9"/><rect x="186.6" y="-15.7" width="15.9" height="9.6" fill="#555b5c"/><rect x="186.6" y="-16.1" width="22.5" height="1.7" fill="#555b5c"/><rect x="34.1" y="-55.8" width="175" height="37.5" fill="#b8bec7"/><circle cx="179.45" cy="-7.9" r="9.05" fill="#fff"/><circle cx="179.45" cy="-7.9" r="7.9" fill="#555b5c"/><circle cx="179.45" cy="-7.9" r="3.5" fill="#7d8384"/></g>
<g transform="translate(681,883.25) scale(0.6640)"><path d="M0,-6.1 V-39.5 C0,-43.2 2,-45.4 5.5,-47 C11,-49.2 19,-50.5 29,-51.5 C30.3,-51.6 30.8,-51 30.8,-50 V-46 H34.5 V-18 H31 V-6.1 Z" fill="#c3cfd6"/><rect x="30.9" y="-46" width="3.6" height="28" fill="#b5c3cb"/><rect x="3.7" y="-37.9" width="10.4" height="9" fill="#eef1f3"/><rect x="0" y="-37.9" width="2.4" height="9" fill="#eef1f3"/><rect x="0" y="-13.5" width="7" height="7.4" fill="#ccd7dd"/><rect x="0" y="-18.6" width="196.6" height="12.5" fill="#bfcbd2"/><rect x="34.1" y="-18.6" width="162" height="2.6" fill="#b3c1c9"/><rect x="186.6" y="-15.7" width="15.9" height="9.6" fill="#555b5c"/><rect x="186.6" y="-16.1" width="22.5" height="1.7" fill="#555b5c"/><rect x="34.1" y="-55.8" width="175" height="37.5" fill="#c3cfd6"/><circle cx="15.95" cy="-7.9" r="9.05" fill="#fff"/><circle cx="55.7" cy="-7.9" r="9.05" fill="#fff"/><circle cx="75" cy="-7.9" r="9.05" fill="#fff"/><circle cx="141.6" cy="-7.9" r="9.05" fill="#fff"/><circle cx="160.3" cy="-7.9" r="9.05" fill="#fff"/><circle cx="179.45" cy="-7.9" r="9.05" fill="#fff"/><circle cx="15.95" cy="-7.9" r="7.9" fill="#555b5c"/><circle cx="15.95" cy="-7.9" r="3.5" fill="#7d8384"/><circle cx="55.7" cy="-7.9" r="7.9" fill="#555b5c"/><circle cx="55.7" cy="-7.9" r="3.5" fill="#7d8384"/><circle cx="75" cy="-7.9" r="7.9" fill="#555b5c"/><circle cx="75" cy="-7.9" r="3.5" fill="#7d8384"/><circle cx="141.6" cy="-7.9" r="7.9" fill="#555b5c"/><circle cx="141.6" cy="-7.9" r="3.5" fill="#7d8384"/><circle cx="160.3" cy="-7.9" r="7.9" fill="#555b5c"/><circle cx="160.3" cy="-7.9" r="3.5" fill="#7d8384"/><circle cx="179.45" cy="-7.9" r="7.9" fill="#555b5c"/><circle cx="179.45" cy="-7.9" r="3.5" fill="#7d8384"/></g>
<path d="M939.5,860 V817.5 H988.75 V860 Z" fill="#dce0e6"/><path d="M988.75,817.5 L991.51,821.6 V860 H988.75 Z" fill="#c5c9cf"/><rect x="954.15" y="827.91" width="34.3" height="32.09" fill="#878d93"/><path d="M939.5,817.5 L954.15,827.91" stroke="#a3abb2" stroke-width="0.7" fill="none"/>
<path d="M996.25,860 V817.5 H1045.45 V860 Z" fill="#dce0e6"/><path d="M1045.45,817.5 L1048.21,821.6 V860 H1045.45 Z" fill="#c5c9cf"/><rect x="1010.89" y="827.91" width="34.26" height="32.09" fill="#878d93"/><path d="M996.25,817.5 L1010.89,827.91" stroke="#a3abb2" stroke-width="0.7" fill="none"/>
<path d="M946,830.1v29.9M969,832.4v27.6M1010.5,847.35v12.65M1017.8,847.35v12.65M1026,839.3v20.7" stroke="#4aa5bd" stroke-width="7" stroke-dasharray="1.85 0.45" fill="none"/><path d="M953.9,827.8v32.2M977.15,838.15v21.85M1002.15,856.55v3.45" stroke="#4aa5bd" stroke-width="6.8" stroke-dasharray="1.85 0.45" fill="none"/><path d="M961.05,827.8v32.2" stroke="#4aa5bd" stroke-width="6.9" stroke-dasharray="1.85 0.45" fill="none"/><path d="M985,846.2v13.8" stroke="#4aa5bd" stroke-width="6.5" stroke-dasharray="1.85 0.45" fill="none"/><path d="M1033.15,833.09v26.91" stroke="#4aa5bd" stroke-width="6.3" stroke-dasharray="1.85 0.45" fill="none"/><path d="M1040,839.3v20.7" stroke="#4aa5bd" stroke-width="6" stroke-dasharray="1.85 0.45" fill="none"/>
<path d="M887.75,863.2v6.8M999.75,891.95v6.8M1013.5,881.75v17" stroke="#4aa5bd" stroke-width="12" stroke-dasharray="2.8 0.6" fill="none"/><path d="M901.4,846.15v23.45M913.5,846.15v23.45" stroke="#4aa5bd" stroke-width="11.8" stroke-dasharray="2.75 0.6" fill="none"/><path d="M913.65,891.95v6.8" stroke="#4aa5bd" stroke-width="12.3" stroke-dasharray="2.8 0.6" fill="none"/><path d="M927.65,874.95v23.8M939.75,874.95v23.8" stroke="#4aa5bd" stroke-width="11.8" stroke-dasharray="2.8 0.6" fill="none"/><path d="M953.5,881.5v17.25" stroke="#4aa5bd" stroke-width="12" stroke-dasharray="2.85 0.6" fill="none"/><path d="M966.5,874.25v24.5" stroke="#4aa5bd" stroke-width="12" stroke-dasharray="2.9 0.6" fill="none"/><path d="M980,881.5v17.25" stroke="#4aa5bd" stroke-width="11.5" stroke-dasharray="2.85 0.6" fill="none"/>
<g transform="translate(1076.25,805.5) scale(-1,1)"><path d="M2.6,-44 H0.2 V-48.6 L145.95,-55.45 M6.6,-44.8 L141.25,-52.15" stroke="#222226" stroke-width="0.8" fill="none"/><path d="M148.25,-52.75 V-8" stroke="#222226" stroke-width="0.8" fill="none"/><path d="M148.25,27.5v12.3" stroke="#4aa5bd" stroke-width="15.9" stroke-dasharray="1.86 0.6" fill="none"/><path d="M148.25,0.4 Q145.05,15.95 143.5,27.1 V40.1 H153 V27.1 Q151.45,15.95 148.25,0.4 M143.5,27.1 H153 M148.25,27.1 V40.1" stroke="#222226" stroke-width="0.75" fill="none"/><rect x="146.95" y="-8" width="2.6" height="8.4" rx="0.6" fill="#f7a427"/><path d="M1.9,-42.1 L-24.2,-9.8 L-3.3,0.5 M-24.2,-9.8 V19" stroke="#f7a427" stroke-width="1.4" fill="none"/><path d="M-4.2,-0.4 L-8.9,20.2" stroke="#222226" stroke-width="0.9" fill="none"/><path d="M16.4,3.3 L5.6,39.9" stroke="#222226" stroke-width="1.3" fill="none"/><path d="M2.3,-43.5 L-3.3,-1" stroke="#222226" stroke-width="0.8" fill="none"/><path d="M3.7,-42 L2.1,-19" stroke="#222226" stroke-width="1.7" stroke-dasharray="0.6 0.7" fill="none"/><path d="M-2.8,-3 V-19 H0.9 V-3" stroke="#222226" stroke-width="0.9" fill="none"/><path d="M-0.95,-18.5 V-3" stroke="#222226" stroke-width="3" stroke-dasharray="1 2.2" fill="none"/><rect x="-3.4" y="1" width="7.1" height="40" fill="#222226"/><path d="M0.15,4.6 V41" stroke="#fff" stroke-width="4.4" stroke-dasharray="4.1 1.4" fill="none"/><path d="M11.7,-22 L3.7,-4.3" stroke="#f7a427" stroke-width="1.3" fill="none"/><rect x="4.7" y="-19.4" width="8" height="4.2" fill="#3a3d42"/><path d="M5.8,-19.4v4.2 M7.6,-19.4v4.2 M9.4,-19.4v4.2" stroke="#fff" stroke-width="0.6"/><rect x="11.9" y="-24.4" width="7.9" height="4.6" rx="0.6" fill="#4aa5bd"/><rect x="12.2" y="-20" width="8.6" height="5" fill="#26282d"/><path d="M14.3,-18.8v2.6 M16.5,-18.8v2.6 M18.7,-18.8v2.6" stroke="#3f7f92" stroke-width="1.2"/><path d="M4.7,-45.9 L1.6,-0.5" stroke="#f7a427" stroke-width="2.6" fill="none"/><circle cx="4.7" cy="-45.9" r="3" fill="#f7a427"/><path d="M-1.5,-2.5 L2.79,-4.01 L18.83,-9.64 L22.68,0.83 L17.65,3.1 L1.5,3.4 L-2.5,1.5 Z" fill="#f7a427"/><path d="M14.05,-6.71 L146.2,-53.89 M17.26,2.02 L146.41,-53.33" stroke="#f7a427" stroke-width="2.3" fill="none"/><path d="M17.5,-7.45 L26.82,-2.58 L30.54,-12.11 L39.07,-7.83 L42.6,-16.41 L50.4,-12.68 L53.74,-20.39 L60.87,-17.17 L64.05,-24.07 L70.55,-21.32 L73.58,-27.47 L79.51,-25.16 L82.39,-30.62 L87.79,-28.71 L90.53,-33.53 L95.44,-31.99 L98.06,-36.22 L102.52,-35.02 L105.03,-38.7 L109.06,-37.82 L111.46,-41 L115.11,-40.42 L117.42,-43.13 L120.71,-42.81 L122.92,-45.09 L125.88,-45.03 L128.01,-46.91 L130.66,-47.08 L132.72,-48.59 L135.08,-48.97 L137.07,-50.14 L139.17,-50.73 L141.09,-51.58 L142.95,-52.35 L144.81,-52.91 M20.32,0.21 L24.15,-9.83 L33.06,-5.25 L36.69,-14.3 L44.84,-10.3 L48.28,-18.44 L55.74,-14.97 L59,-22.27 L65.81,-19.29 L68.91,-25.81 L75.12,-23.28 L78.07,-29.08 L83.73,-26.97 L86.54,-32.1 L91.69,-30.38 L94.37,-34.9 L99.05,-33.53 L101.61,-37.48 L105.85,-36.45 L108.31,-39.87 L112.15,-39.15 L114.5,-42.08 L117.96,-41.64 L120.22,-44.13 L123.34,-43.94 L125.52,-46.02 L128.32,-46.08 L130.41,-47.76 L132.91,-48.05 L134.93,-49.38 L137.17,-49.87 L139.12,-50.87 L141.1,-51.55 L142.98,-52.25 L144.73,-53.11" stroke="#f7a427" stroke-width="1.7" stroke-linejoin="round" fill="none"/><path d="M113.52,-43.44 L143.92,-54.28 L146.61,-54.52 L147.18,-52.39 L115.25,-38.73 Z" fill="#f7a427"/><circle cx="146.25" cy="-53.75" r="2.1" fill="#f7a427"/><circle cx="0" cy="0.3" r="3.4" fill="#f7a427"/><path d="M-26.4,41 L-24.9,19.6 C-24.9,18.6 -24.3,17.8 -23,17.7 L-17.5,17.4 C-16.3,17.4 -15.6,18.2 -15.6,19.6 L-10.6,24.4 L-10.3,21.8 C-10.2,20.2 -9.2,19.4 -8,19.4 C-6.5,19.4 -5.6,20.3 -5.3,21.8 L-1.5,32.5 L-2.8,41 Z" fill="#f7a427"/><rect x="-23.4" y="20.1" width="10.3" height="3.5" fill="#8a8a8a" stroke="#333" stroke-width="0.5"/><path d="M-20.4,20.1v3.5 M-16.6,20.1v3.5" stroke="#333" stroke-width="0.5"/><rect x="-22" y="25" width="7.5" height="6.5" fill="#231f20"/><rect x="-12.2" y="25" width="6.6" height="6.5" fill="#231f20"/><rect x="-21.1" y="33.9" width="16.9" height="6.9" fill="#231f20"/><path d="M-3.4,32 L-3.4,41.6 H5.8 Z" fill="#eee" stroke="#222226" stroke-width="0.5"/><rect x="8" y="36.6" width="2.8" height="3.8" fill="#fff" stroke="#222226" stroke-width="0.7"/><path d="M-22,44.3 L-4,41.7 H3.5 L22,44.3 V47.9 H-22Z" fill="#9a9a9a" stroke="#3a3a3a" stroke-width="0.5"/><rect x="-1.9" y="41.7" width="4.3" height="6.6" fill="#f4f4f4" stroke="#3a3a3a" stroke-width="0.5"/><rect x="-10.8" y="48.1" width="8.9" height="5.9" fill="#44474a"/><rect x="1.9" y="48.1" width="8.9" height="5.9" fill="#44474a"/><path d="M-10.8,50.2h8.9 M1.9,50.2h8.9" stroke="#8a8a8a" stroke-width="0.7"/><rect x="-21.1" y="44.3" width="1.9" height="10" fill="#8a8a8a" stroke="#3a3a3a" stroke-width="0.4"/><rect x="-22.65" y="53.9" width="5" height="2.2" rx="0.5" fill="#b5b5b5" stroke="#3a3a3a" stroke-width="0.4"/><rect x="19.2" y="44.3" width="1.9" height="10" fill="#8a8a8a" stroke="#3a3a3a" stroke-width="0.4"/><rect x="17.65" y="53.9" width="5" height="2.2" rx="0.5" fill="#b5b5b5" stroke="#3a3a3a" stroke-width="0.4"/><circle cx="-24.2" cy="-9.8" r="1.3" fill="#222226"/></g>
<rect x="36.25" y="1198" width="581.25" height="41.9" fill="#dce0e6"/>
<path d="M474,1198 L479.7,1213.6 L599.2,1232.5 H617.5 V1198Z" fill="#7bbbd7"/>
<g clip-path="url(#c3l)">
<g transform="translate(487.25,1167) scale(0.9170,0.9170)"><g><path d="M27.45,-5.78v9.88" stroke="#93cddb" stroke-width="17.9" fill="none"/><path d="M27.45,-5.78v9.88" stroke="#4aa5bd" stroke-width="17.9" stroke-dasharray="4.09 0.85" fill="none"/><path d="M46.95,-5.78v9.88M65.65,-5.78v9.88M84.35,-5.78v9.88M103.05,-15.66v19.76M121.75,-30.48v34.58M140.45,-30.48v34.58M159.15,-30.48v34.58M203.05,-30.48v34.58M221.94,-30.48v34.58M240.83,-30.48v34.58M259.72,-30.48v34.58M278.61,-30.48v34.58M297.5,-30.48v34.58M316.39,-30.48v34.58M335.28,-30.48v34.58M354.17,-30.48v34.58M373.06,-30.48v34.58M391.95,-30.48v34.58M430.05,-30.48v34.58M448.2,-30.48v34.58M466.95,-30.48v34.58M486.05,-30.48v34.58" stroke="#93cddb" stroke-width="16.9" fill="none"/><path d="M46.95,-5.78v9.88M65.65,-5.78v9.88M84.35,-5.78v9.88M103.05,-15.66v19.76M121.75,-30.48v34.58M140.45,-30.48v34.58M159.15,-30.48v34.58M203.05,-30.48v34.58M221.94,-30.48v34.58M240.83,-30.48v34.58M259.72,-30.48v34.58M278.61,-30.48v34.58M297.5,-30.48v34.58M316.39,-30.48v34.58M335.28,-30.48v34.58M354.17,-30.48v34.58M373.06,-30.48v34.58M391.95,-30.48v34.58M430.05,-30.48v34.58M448.2,-30.48v34.58M466.95,-30.48v34.58M486.05,-30.48v34.58" stroke="#4aa5bd" stroke-width="16.9" stroke-dasharray="4.09 0.85" fill="none"/><path d="M37.4,-4.5v8.6M56.4,-4.5v8.6M75.1,-4.5v8.6M93.8,-4.5v8.6M112.5,-4.5v8.6M131.2,-4.5v8.6M149.9,-4.5v8.6M212.5,-4.5v8.6M231.39,-4.5v8.6M250.28,-4.5v8.6M269.17,-4.5v8.6M288.06,-4.5v8.6M306.95,-4.5v8.6M325.84,-4.5v8.6M344.73,-4.5v8.6M363.62,-4.5v8.6M382.51,-4.5v8.6M439.5,-4.5v8.6M457.65,-4.5v8.6M476.4,-4.5v8.6M168.75,-4.5v8.6M193.4,-4.5v8.6M401.5,-4.5v8.6M420.3,-4.5v8.6" stroke="#8f8b8b" stroke-width="1.9" fill="none"/><path d="M169.75,6 V-39.4 H193.4 V-37.6 H192.4 V6 Z M167.8,-35.4 h2 v1.6 h-2z M172.4,-39.4 v-7.5 h0.7 v7.5z M174.3,-39.4 v-5 h2.6 v5 h-0.8 v-3 h-1 v3z M174.6,-44 l1.6,-4.6 l0.8,0.3 l-1,4.6z" fill="#656766"/><path d="M402.6,6 V-35.85 L405.4,-38.35 H408.5 V-42.5 H411.5 V-38.35 H417.25 L419.4,-35.85 V6 Z" fill="#656766"/><path d="M11.3,-11 V-21.5 H12.5 V-16.5 H13.3 V-12 H14.4 V0.5 H10 V-9.4 H8.5 V-10.8 H10 V-12 H11.3Z" fill="#1f6977"/><path d="M11.6,-8 V0.3 M13,-8 V0.3" stroke="#5f97a2" stroke-width="0.5"/><path d="M14.9,0.6 L17.5,-4.4 H18.5 V0.6Z" fill="#8f8b8b"/><rect x="60" y="4.1" width="436.4" height="3.4" fill="#656766"/><path d="M0,0 C30,0.5 55,1.5 76,5 C82,6 88,6.8 94,6.9 L496.6,6.9 L496.6,24.2 L493.5,27.4 L15.4,27.4 C15.6,20.5 8,11 0,0Z" fill="#165e6e"/><path d="M15.4,27.3 L15.4,29 C12,29 9,29.3 7,29.8 C3,30.8 1,32.5 1,34.8 C1,38 3,40.5 6,42.3 C11,45 20,46.65 30,46.65 L456,46.65 C463,46.65 468,44 474.75,40.4 L474.75,38.5 L471,38.5 C469,38.5 467.9,37 467.9,35.4 L467.9,32.9 C467.9,31.5 469.5,30.4 471,30.4 L474.75,30.4 L479.5,31.65 L485.4,45.15 L489.1,45.15 L493.5,27.3 Z M475,34.8 h1.3 v11.6 h-1.3z" fill="#592a2a"/><circle cx="6.9" cy="5.9" r="1.1" fill="#0b0b0b"/></g></g>
</g>
<g transform="translate(116.5,1204) scale(0.7570)"><path d="M0,-6.1 V-39.5 C0,-43.2 2,-45.4 5.5,-47 C11,-49.2 19,-50.5 29,-51.5 C30.3,-51.6 30.8,-51 30.8,-50 V-46 H34.5 V-18 H31 V-6.1 Z" fill="#c3cfd6"/><rect x="30.9" y="-46" width="3.6" height="28" fill="#b5c3cb"/><rect x="3.7" y="-37.9" width="10.4" height="9" fill="#eef1f3"/><rect x="0" y="-37.9" width="2.4" height="9" fill="#eef1f3"/><rect x="0" y="-13.5" width="7" height="7.4" fill="#ccd7dd"/><rect x="0" y="-18.6" width="196.6" height="12.5" fill="#bfcbd2"/><rect x="34.1" y="-18.6" width="162" height="2.6" fill="#b3c1c9"/><rect x="186.6" y="-15.7" width="15.9" height="9.6" fill="#555b5c"/><rect x="186.6" y="-16.1" width="22.5" height="1.7" fill="#555b5c"/><rect x="34.1" y="-55.8" width="175" height="37.5" fill="#abb1b9"/><path d="M51.05,-42.85v22.75M69.85,-51.95v31.85M86.05,-51.95v31.85M103.95,-42.85v22.75M121.4,-51.95v31.85M137.6,-51.95v31.85M156.05,-42.85v22.75M173.35,-51.95v31.85M189.55,-51.95v31.85" stroke="#4aa5bd" stroke-width="15.9" stroke-dasharray="3.85 0.7" fill="none"/><circle cx="160.3" cy="-7.9" r="9.05" fill="#fff"/><circle cx="179.45" cy="-7.9" r="9.05" fill="#fff"/><circle cx="160.3" cy="-7.9" r="7.9" fill="#555b5c"/><circle cx="160.3" cy="-7.9" r="3.5" fill="#7d8384"/><circle cx="179.45" cy="-7.9" r="7.9" fill="#555b5c"/><circle cx="179.45" cy="-7.9" r="3.5" fill="#7d8384"/></g>
<g transform="translate(76.5,1212) scale(0.7570)"><path d="M0,-6.1 V-39.5 C0,-43.2 2,-45.4 5.5,-47 C11,-49.2 19,-50.5 29,-51.5 C30.3,-51.6 30.8,-51 30.8,-50 V-46 H34.5 V-18 H31 V-6.1 Z" fill="#c3cfd6"/><rect x="30.9" y="-46" width="3.6" height="28" fill="#b5c3cb"/><rect x="3.7" y="-37.9" width="10.4" height="9" fill="#eef1f3"/><rect x="0" y="-37.9" width="2.4" height="9" fill="#eef1f3"/><rect x="0" y="-13.5" width="7" height="7.4" fill="#ccd7dd"/><rect x="0" y="-18.6" width="196.6" height="12.5" fill="#bfcbd2"/><rect x="34.1" y="-18.6" width="162" height="2.6" fill="#b3c1c9"/><rect x="186.6" y="-15.7" width="15.9" height="9.6" fill="#555b5c"/><rect x="186.6" y="-16.1" width="22.5" height="1.7" fill="#555b5c"/><rect x="34.1" y="-55.8" width="175" height="37.5" fill="#b8bec7"/><path d="M51.05,-42.85v22.75M69.85,-51.95v31.85M86.05,-51.95v31.85M103.95,-42.85v22.75M121.4,-51.95v31.85M137.6,-51.95v31.85M156.05,-42.85v22.75M173.35,-51.95v31.85M189.55,-51.95v31.85" stroke="#4aa5bd" stroke-width="15.9" stroke-dasharray="3.85 0.7" fill="none"/><circle cx="179.45" cy="-7.9" r="9.05" fill="#fff"/><circle cx="179.45" cy="-7.9" r="7.9" fill="#555b5c"/><circle cx="179.45" cy="-7.9" r="3.5" fill="#7d8384"/></g>
<g transform="translate(45.75,1219.5) scale(0.7570)"><path d="M0,-6.1 V-39.5 C0,-43.2 2,-45.4 5.5,-47 C11,-49.2 19,-50.5 29,-51.5 C30.3,-51.6 30.8,-51 30.8,-50 V-46 H34.5 V-18 H31 V-6.1 Z" fill="#c3cfd6"/><rect x="30.9" y="-46" width="3.6" height="28" fill="#b5c3cb"/><rect x="3.7" y="-37.9" width="10.4" height="9" fill="#eef1f3"/><rect x="0" y="-37.9" width="2.4" height="9" fill="#eef1f3"/><rect x="0" y="-13.5" width="7" height="7.4" fill="#ccd7dd"/><rect x="0" y="-18.6" width="196.6" height="12.5" fill="#bfcbd2"/><rect x="34.1" y="-18.6" width="162" height="2.6" fill="#b3c1c9"/><rect x="186.6" y="-15.7" width="15.9" height="9.6" fill="#555b5c"/><rect x="186.6" y="-16.1" width="22.5" height="1.7" fill="#555b5c"/><rect x="34.1" y="-55.8" width="175" height="37.5" fill="#c3cfd6"/><path d="M51.05,-42.85v22.75M69.85,-51.95v31.85M86.05,-51.95v31.85M103.95,-42.85v22.75M121.4,-51.95v31.85M137.6,-51.95v31.85M156.05,-42.85v22.75M173.35,-51.95v31.85M189.55,-51.95v31.85" stroke="#4aa5bd" stroke-width="15.9" stroke-dasharray="3.85 0.7" fill="none"/><circle cx="15.95" cy="-7.9" r="9.05" fill="#fff"/><circle cx="55.7" cy="-7.9" r="9.05" fill="#fff"/><circle cx="75" cy="-7.9" r="9.05" fill="#fff"/><circle cx="141.6" cy="-7.9" r="9.05" fill="#fff"/><circle cx="160.3" cy="-7.9" r="9.05" fill="#fff"/><circle cx="179.45" cy="-7.9" r="9.05" fill="#fff"/><circle cx="15.95" cy="-7.9" r="7.9" fill="#555b5c"/><circle cx="15.95" cy="-7.9" r="3.5" fill="#7d8384"/><circle cx="55.7" cy="-7.9" r="7.9" fill="#555b5c"/><circle cx="55.7" cy="-7.9" r="3.5" fill="#7d8384"/><circle cx="75" cy="-7.9" r="7.9" fill="#555b5c"/><circle cx="75" cy="-7.9" r="3.5" fill="#7d8384"/><circle cx="141.6" cy="-7.9" r="7.9" fill="#555b5c"/><circle cx="141.6" cy="-7.9" r="3.5" fill="#7d8384"/><circle cx="160.3" cy="-7.9" r="7.9" fill="#555b5c"/><circle cx="160.3" cy="-7.9" r="3.5" fill="#7d8384"/><circle cx="179.45" cy="-7.9" r="7.9" fill="#555b5c"/><circle cx="179.45" cy="-7.9" r="3.5" fill="#7d8384"/></g>
<path d="M304.2,1191.4v6.6" stroke="#4aa5bd" stroke-width="11.8" stroke-dasharray="2.7 0.6" fill="none"/><path d="M317.8,1174.55v23.45M330.1,1174.55v23.45" stroke="#4aa5bd" stroke-width="12" stroke-dasharray="2.75 0.6" fill="none"/><path d="M344,1181v17" stroke="#4aa5bd" stroke-width="11.6" stroke-dasharray="2.8 0.6" fill="none"/><path d="M357.2,1173.85v24.15" stroke="#4aa5bd" stroke-width="12.4" stroke-dasharray="2.85 0.6" fill="none"/><path d="M371.1,1181v17" stroke="#4aa5bd" stroke-width="11.8" stroke-dasharray="2.8 0.6" fill="none"/><path d="M390.6,1191.4v6.6" stroke="#4aa5bd" stroke-width="12" stroke-dasharray="2.7 0.6" fill="none"/><path d="M404.75,1181v17" stroke="#4aa5bd" stroke-width="12.1" stroke-dasharray="2.8 0.6" fill="none"/>
<g transform="translate(449.6,1143.4) scale(-1,1)"><path d="M2.6,-44 H0.2 V-48.6 L146.6,-55.6 M6.6,-44.8 L141.9,-52.3" stroke="#222226" stroke-width="0.8" fill="none"/><path d="M148.9,-52.9 V-8.6" stroke="#222226" stroke-width="0.8" fill="none"/><path d="M148.9,27.3v12.3" stroke="#4aa5bd" stroke-width="15.9" stroke-dasharray="1.86 0.6" fill="none"/><path d="M148.9,-0.2 Q145.7,15.55 144.15,26.9 V39.9 H153.65 V26.9 Q152.1,15.55 148.9,-0.2 M144.15,26.9 H153.65 M148.9,26.9 V39.9" stroke="#222226" stroke-width="0.75" fill="none"/><rect x="147.6" y="-8.6" width="2.6" height="8.4" rx="0.6" fill="#f7a427"/><path d="M1.9,-42.1 L-24.2,-9.8 L-3.3,0.5 M-24.2,-9.8 V19" stroke="#f7a427" stroke-width="1.4" fill="none"/><path d="M-4.2,-0.4 L-8.9,20.2" stroke="#222226" stroke-width="0.9" fill="none"/><path d="M16.4,3.3 L5.6,39.9" stroke="#222226" stroke-width="1.3" fill="none"/><path d="M2.3,-43.5 L-3.3,-1" stroke="#222226" stroke-width="0.8" fill="none"/><path d="M3.7,-42 L2.1,-19" stroke="#222226" stroke-width="1.7" stroke-dasharray="0.6 0.7" fill="none"/><path d="M-2.8,-3 V-19 H0.9 V-3" stroke="#222226" stroke-width="0.9" fill="none"/><path d="M-0.95,-18.5 V-3" stroke="#222226" stroke-width="3" stroke-dasharray="1 2.2" fill="none"/><rect x="-3.4" y="1" width="7.1" height="40" fill="#222226"/><path d="M0.15,4.6 V41" stroke="#fff" stroke-width="4.4" stroke-dasharray="4.1 1.4" fill="none"/><path d="M11.7,-22 L3.7,-4.3" stroke="#f7a427" stroke-width="1.3" fill="none"/><rect x="4.7" y="-19.4" width="8" height="4.2" fill="#3a3d42"/><path d="M5.8,-19.4v4.2 M7.6,-19.4v4.2 M9.4,-19.4v4.2" stroke="#fff" stroke-width="0.6"/><rect x="11.9" y="-24.4" width="7.9" height="4.6" rx="0.6" fill="#4aa5bd"/><rect x="12.2" y="-20" width="8.6" height="5" fill="#26282d"/><path d="M14.3,-18.8v2.6 M16.5,-18.8v2.6 M18.7,-18.8v2.6" stroke="#3f7f92" stroke-width="1.2"/><path d="M4.7,-45.9 L1.6,-0.5" stroke="#f7a427" stroke-width="2.6" fill="none"/><circle cx="4.7" cy="-45.9" r="3" fill="#f7a427"/><path d="M-1.5,-2.5 L2.79,-4.01 L18.84,-9.63 L22.68,0.84 L17.65,3.11 L1.5,3.4 L-2.5,1.5 Z" fill="#f7a427"/><path d="M14.05,-6.7 L146.85,-54.04 M17.26,2.03 L147.06,-53.48" stroke="#f7a427" stroke-width="2.3" fill="none"/><path d="M17.51,-7.44 L26.82,-2.56 L30.55,-12.09 L39.08,-7.8 L42.61,-16.39 L50.42,-12.65 L53.77,-20.37 L60.91,-17.14 L64.09,-24.05 L70.61,-21.29 L73.64,-27.45 L79.58,-25.12 L82.47,-30.6 L87.88,-28.67 L90.64,-33.51 L95.56,-31.96 L98.19,-36.21 L102.66,-34.99 L105.18,-38.7 L109.23,-37.8 L111.64,-41 L115.3,-40.4 L117.62,-43.13 L120.92,-42.8 L123.14,-45.1 L126.12,-45.02 L128.26,-46.93 L130.93,-47.08 L132.99,-48.61 L135.37,-48.98 L137.36,-50.17 L139.49,-50.74 L141.41,-51.61 L143.29,-52.37 L145.15,-52.95 M20.32,0.22 L24.16,-9.81 L33.07,-5.23 L36.7,-14.29 L44.86,-10.27 L48.3,-18.42 L55.77,-14.94 L59.03,-22.25 L65.85,-19.25 L68.96,-25.79 L75.18,-23.24 L78.14,-29.06 L83.81,-26.93 L86.63,-32.09 L91.8,-30.35 L94.49,-34.89 L99.18,-33.5 L101.75,-37.48 L106.01,-36.42 L108.47,-39.87 L112.33,-39.13 L114.68,-42.09 L118.17,-41.62 L120.43,-44.14 L123.57,-43.93 L125.75,-46.03 L128.57,-46.07 L130.67,-47.78 L133.19,-48.05 L135.22,-49.41 L137.47,-49.88 L139.43,-50.91 L141.42,-51.57 L143.32,-52.29 L145.08,-53.13" stroke="#f7a427" stroke-width="1.7" stroke-linejoin="round" fill="none"/><path d="M114.02,-43.56 L144.57,-54.43 L147.26,-54.67 L147.83,-52.54 L115.76,-38.84 Z" fill="#f7a427"/><circle cx="146.9" cy="-53.9" r="2.1" fill="#f7a427"/><circle cx="0" cy="0.3" r="3.4" fill="#f7a427"/><path d="M-26.4,41 L-24.9,19.6 C-24.9,18.6 -24.3,17.8 -23,17.7 L-17.5,17.4 C-16.3,17.4 -15.6,18.2 -15.6,19.6 L-10.6,24.4 L-10.3,21.8 C-10.2,20.2 -9.2,19.4 -8,19.4 C-6.5,19.4 -5.6,20.3 -5.3,21.8 L-1.5,32.5 L-2.8,41 Z" fill="#f7a427"/><rect x="-23.4" y="20.1" width="10.3" height="3.5" fill="#8a8a8a" stroke="#333" stroke-width="0.5"/><path d="M-20.4,20.1v3.5 M-16.6,20.1v3.5" stroke="#333" stroke-width="0.5"/><rect x="-22" y="25" width="7.5" height="6.5" fill="#231f20"/><rect x="-12.2" y="25" width="6.6" height="6.5" fill="#231f20"/><rect x="-21.1" y="33.9" width="16.9" height="6.9" fill="#231f20"/><path d="M-3.4,32 L-3.4,41.6 H5.8 Z" fill="#eee" stroke="#222226" stroke-width="0.5"/><rect x="8" y="36.6" width="2.8" height="3.8" fill="#fff" stroke="#222226" stroke-width="0.7"/><path d="M-22,44.3 L-4,41.7 H3.5 L22,44.3 V47.9 H-22Z" fill="#9a9a9a" stroke="#3a3a3a" stroke-width="0.5"/><rect x="-1.9" y="41.7" width="4.3" height="6.6" fill="#f4f4f4" stroke="#3a3a3a" stroke-width="0.5"/><rect x="-10.8" y="48.1" width="8.9" height="5.9" fill="#44474a"/><rect x="1.9" y="48.1" width="8.9" height="5.9" fill="#44474a"/><path d="M-10.8,50.2h8.9 M1.9,50.2h8.9" stroke="#8a8a8a" stroke-width="0.7"/><rect x="-21.1" y="44.3" width="1.9" height="10" fill="#8a8a8a" stroke="#3a3a3a" stroke-width="0.4"/><rect x="-22.65" y="53.9" width="5" height="2.2" rx="0.5" fill="#b5b5b5" stroke="#3a3a3a" stroke-width="0.4"/><rect x="19.2" y="44.3" width="1.9" height="10" fill="#8a8a8a" stroke="#3a3a3a" stroke-width="0.4"/><rect x="17.65" y="53.9" width="5" height="2.2" rx="0.5" fill="#b5b5b5" stroke="#3a3a3a" stroke-width="0.4"/><circle cx="-24.2" cy="-9.8" r="1.3" fill="#222226"/></g>
<rect x="666.5" y="1193.5" width="579.5" height="46" fill="#dce0e6"/>
<g transform="translate(772.4,1206.1) scale(0.8680)"><path d="M0,-6.1 V-39.5 C0,-43.2 2,-45.4 5.5,-47 C11,-49.2 19,-50.5 29,-51.5 C30.3,-51.6 30.8,-51 30.8,-50 V-46 H34.5 V-18 H31 V-6.1 Z" fill="#c3cfd6"/><rect x="30.9" y="-46" width="3.6" height="28" fill="#b5c3cb"/><rect x="3.7" y="-37.9" width="10.4" height="9" fill="#eef1f3"/><rect x="0" y="-37.9" width="2.4" height="9" fill="#eef1f3"/><rect x="0" y="-13.5" width="7" height="7.4" fill="#ccd7dd"/><rect x="0" y="-18.6" width="196.6" height="12.5" fill="#bfcbd2"/><rect x="34.1" y="-18.6" width="162" height="2.6" fill="#b3c1c9"/><rect x="186.6" y="-15.7" width="15.9" height="9.6" fill="#555b5c"/><rect x="186.6" y="-16.1" width="22.5" height="1.7" fill="#555b5c"/><rect x="34.1" y="-55.8" width="175" height="37.5" fill="#abb1b9"/><circle cx="160.3" cy="-7.9" r="9.05" fill="#fff"/><circle cx="179.45" cy="-7.9" r="9.05" fill="#fff"/><circle cx="160.3" cy="-7.9" r="7.9" fill="#555b5c"/><circle cx="160.3" cy="-7.9" r="3.5" fill="#7d8384"/><circle cx="179.45" cy="-7.9" r="7.9" fill="#555b5c"/><circle cx="179.45" cy="-7.9" r="3.5" fill="#7d8384"/></g>
<g transform="translate(726.4,1214.6) scale(0.8680)"><path d="M0,-6.1 V-39.5 C0,-43.2 2,-45.4 5.5,-47 C11,-49.2 19,-50.5 29,-51.5 C30.3,-51.6 30.8,-51 30.8,-50 V-46 H34.5 V-18 H31 V-6.1 Z" fill="#c3cfd6"/><rect x="30.9" y="-46" width="3.6" height="28" fill="#b5c3cb"/><rect x="3.7" y="-37.9" width="10.4" height="9" fill="#eef1f3"/><rect x="0" y="-37.9" width="2.4" height="9" fill="#eef1f3"/><rect x="0" y="-13.5" width="7" height="7.4" fill="#ccd7dd"/><rect x="0" y="-18.6" width="196.6" height="12.5" fill="#bfcbd2"/><rect x="34.1" y="-18.6" width="162" height="2.6" fill="#b3c1c9"/><rect x="186.6" y="-15.7" width="15.9" height="9.6" fill="#555b5c"/><rect x="186.6" y="-16.1" width="22.5" height="1.7" fill="#555b5c"/><rect x="34.1" y="-55.8" width="175" height="37.5" fill="#b8bec7"/><circle cx="179.45" cy="-7.9" r="9.05" fill="#fff"/><circle cx="179.45" cy="-7.9" r="7.9" fill="#555b5c"/><circle cx="179.45" cy="-7.9" r="3.5" fill="#7d8384"/></g>
<g transform="translate(690.3,1223.2) scale(0.8680)"><path d="M0,-6.1 V-39.5 C0,-43.2 2,-45.4 5.5,-47 C11,-49.2 19,-50.5 29,-51.5 C30.3,-51.6 30.8,-51 30.8,-50 V-46 H34.5 V-18 H31 V-6.1 Z" fill="#c3cfd6"/><rect x="30.9" y="-46" width="3.6" height="28" fill="#b5c3cb"/><rect x="3.7" y="-37.9" width="10.4" height="9" fill="#eef1f3"/><rect x="0" y="-37.9" width="2.4" height="9" fill="#eef1f3"/><rect x="0" y="-13.5" width="7" height="7.4" fill="#ccd7dd"/><rect x="0" y="-18.6" width="196.6" height="12.5" fill="#bfcbd2"/><rect x="34.1" y="-18.6" width="162" height="2.6" fill="#b3c1c9"/><rect x="186.6" y="-15.7" width="15.9" height="9.6" fill="#555b5c"/><rect x="186.6" y="-16.1" width="22.5" height="1.7" fill="#555b5c"/><rect x="34.1" y="-55.8" width="175" height="37.5" fill="#c3cfd6"/><circle cx="15.95" cy="-7.9" r="9.05" fill="#fff"/><circle cx="55.7" cy="-7.9" r="9.05" fill="#fff"/><circle cx="75" cy="-7.9" r="9.05" fill="#fff"/><circle cx="141.6" cy="-7.9" r="9.05" fill="#fff"/><circle cx="160.3" cy="-7.9" r="9.05" fill="#fff"/><circle cx="179.45" cy="-7.9" r="9.05" fill="#fff"/><circle cx="15.95" cy="-7.9" r="7.9" fill="#555b5c"/><circle cx="15.95" cy="-7.9" r="3.5" fill="#7d8384"/><circle cx="55.7" cy="-7.9" r="7.9" fill="#555b5c"/><circle cx="55.7" cy="-7.9" r="3.5" fill="#7d8384"/><circle cx="75" cy="-7.9" r="7.9" fill="#555b5c"/><circle cx="75" cy="-7.9" r="3.5" fill="#7d8384"/><circle cx="141.6" cy="-7.9" r="7.9" fill="#555b5c"/><circle cx="141.6" cy="-7.9" r="3.5" fill="#7d8384"/><circle cx="160.3" cy="-7.9" r="7.9" fill="#555b5c"/><circle cx="160.3" cy="-7.9" r="3.5" fill="#7d8384"/><circle cx="179.45" cy="-7.9" r="7.9" fill="#555b5c"/><circle cx="179.45" cy="-7.9" r="3.5" fill="#7d8384"/></g>
<path d="M998.7,1193.4 V1132.4 H1068.3 V1193.4 Z" fill="#dce0e6"/><path d="M1068.3,1132.4 L1072.2,1138.29 V1193.4 H1068.3 Z" fill="#c5c9cf"/><rect x="1019.41" y="1147.35" width="48.59" height="46.06" fill="#878d93"/><path d="M998.7,1132.4 L1019.41,1147.35" stroke="#a3abb2" stroke-width="0.7" fill="none"/>
<path d="M1078.8,1193.4 V1132.4 H1148.2 V1193.4 Z" fill="#dce0e6"/><path d="M1148.2,1132.4 L1152.09,1138.29 V1193.4 H1148.2 Z" fill="#c5c9cf"/><rect x="1099.45" y="1147.35" width="48.45" height="46.06" fill="#878d93"/><path d="M1078.8,1132.4 L1099.45,1147.35" stroke="#a3abb2" stroke-width="0.7" fill="none"/>
<path d="M1156.9,1193.4 V1132.4 H1226.3 V1193.4 Z" fill="#dce0e6"/><path d="M1226.3,1132.4 L1230.19,1138.29 V1193.4 H1226.3 Z" fill="#c5c9cf"/><rect x="1177.55" y="1147.35" width="48.45" height="46.06" fill="#878d93"/><path d="M1156.9,1132.4 L1177.55,1147.35" stroke="#a3abb2" stroke-width="0.7" fill="none"/>
<path d="M1007.45,1151v42.3" stroke="#4aa5bd" stroke-width="10.5" stroke-dasharray="1.85 0.5" fill="none"/><path d="M1018.9,1148.18v45.12M1051,1162.04v31.26" stroke="#4aa5bd" stroke-width="10" stroke-dasharray="1.85 0.5" fill="none"/><path d="M1029.4,1148.18v45.12" stroke="#4aa5bd" stroke-width="10.2" stroke-dasharray="1.85 0.5" fill="none"/><path d="M1040.25,1153.82v39.48" stroke="#4aa5bd" stroke-width="9.5" stroke-dasharray="1.85 0.5" fill="none"/><path d="M1062.5,1173.79v19.51" stroke="#4aa5bd" stroke-width="9.6" stroke-dasharray="1.85 0.5" fill="none"/><path d="M1087.15,1188.1v5.2" stroke="#4aa5bd" stroke-width="10.5" stroke-dasharray="2.1 0.5" fill="none"/><path d="M1098.45,1174.03v19.27M1108.65,1174.03v19.27" stroke="#4aa5bd" stroke-width="9.7" stroke-dasharray="1.85 0.5" fill="none"/><path d="M1175.7,1163.22v30.08" stroke="#4aa5bd" stroke-width="8.2" stroke-dasharray="1.85 0.5" fill="none"/><path d="M1185,1163.22v30.08" stroke="#4aa5bd" stroke-width="8.4" stroke-dasharray="1.85 0.5" fill="none"/><path d="M1081.5,1202.95v30.55" stroke="#4aa5bd" stroke-width="8.6" stroke-dasharray="1.85 0.5" fill="none"/>
<path d="M1122.5,1167.02v26.28" stroke="#4aa5bd" stroke-width="14.8" stroke-dasharray="3.68 0.7" fill="none"/><path d="M1138.1,1162.71v30.59" stroke="#4aa5bd" stroke-width="15" stroke-dasharray="3.67 0.7" fill="none"/><path d="M1198.4,1167.02v26.28" stroke="#4aa5bd" stroke-width="15.2" stroke-dasharray="3.68 0.7" fill="none"/><path d="M1214.65,1162.71v30.59" stroke="#4aa5bd" stroke-width="15.7" stroke-dasharray="3.67 0.7" fill="none"/><path d="M1095.15,1211.5v22M1198.65,1211.5v22" stroke="#4aa5bd" stroke-width="15.7" stroke-dasharray="3.7 0.7" fill="none"/><path d="M1113.15,1202.98v30.52M1216.25,1202.98v30.52" stroke="#4aa5bd" stroke-width="15.7" stroke-dasharray="3.66 0.7" fill="none"/><path d="M1129.65,1202.98v30.52" stroke="#4aa5bd" stroke-width="15.9" stroke-dasharray="3.66 0.7" fill="none"/><path d="M1147.6,1211.5v22" stroke="#4aa5bd" stroke-width="15.2" stroke-dasharray="3.7 0.7" fill="none"/><path d="M1180.9,1202.98v30.52" stroke="#4aa5bd" stroke-width="16.2" stroke-dasharray="3.66 0.7" fill="none"/><path d="M1232.8,1215.9v17.6" stroke="#4aa5bd" stroke-width="16" stroke-dasharray="3.7 0.7" fill="none"/>
<rect x="36.25" y="1553.75" width="581.25" height="41.75" fill="#dce0e6"/>
<path d="M288.75,1553.75 L295,1569.5 L414.2,1587.8 H617.5 V1553.75Z" fill="#7bbbd7"/>
<g clip-path="url(#c4l)">
<g transform="translate(302,1523.5) scale(0.9120,0.9120)"><g><path d="M27.45,-5.78v9.88" stroke="#93cddb" stroke-width="17.9" fill="none"/><path d="M27.45,-5.78v9.88" stroke="#4aa5bd" stroke-width="17.9" stroke-dasharray="4.09 0.85" fill="none"/><path d="M46.95,-5.78v9.88M65.65,-5.78v9.88M84.35,-5.78v9.88M103.05,-15.66v19.76M121.75,-30.48v34.58M140.45,-30.48v34.58M159.15,-30.48v34.58M203.05,-30.48v34.58M221.94,-30.48v34.58M240.83,-30.48v34.58M259.72,-30.48v34.58M278.61,-30.48v34.58M297.5,-30.48v34.58M316.39,-30.48v34.58M335.28,-30.48v34.58M354.17,-30.48v34.58M373.06,-30.48v34.58M391.95,-30.48v34.58M430.05,-30.48v34.58M448.2,-30.48v34.58M466.95,-30.48v34.58M486.05,-30.48v34.58" stroke="#93cddb" stroke-width="16.9" fill="none"/><path d="M46.95,-5.78v9.88M65.65,-5.78v9.88M84.35,-5.78v9.88M103.05,-15.66v19.76M121.75,-30.48v34.58M140.45,-30.48v34.58M159.15,-30.48v34.58M203.05,-30.48v34.58M221.94,-30.48v34.58M240.83,-30.48v34.58M259.72,-30.48v34.58M278.61,-30.48v34.58M297.5,-30.48v34.58M316.39,-30.48v34.58M335.28,-30.48v34.58M354.17,-30.48v34.58M373.06,-30.48v34.58M391.95,-30.48v34.58M430.05,-30.48v34.58M448.2,-30.48v34.58M466.95,-30.48v34.58M486.05,-30.48v34.58" stroke="#4aa5bd" stroke-width="16.9" stroke-dasharray="4.09 0.85" fill="none"/><path d="M37.4,-4.5v8.6M56.4,-4.5v8.6M75.1,-4.5v8.6M93.8,-4.5v8.6M112.5,-4.5v8.6M131.2,-4.5v8.6M149.9,-4.5v8.6M212.5,-4.5v8.6M231.39,-4.5v8.6M250.28,-4.5v8.6M269.17,-4.5v8.6M288.06,-4.5v8.6M306.95,-4.5v8.6M325.84,-4.5v8.6M344.73,-4.5v8.6M363.62,-4.5v8.6M382.51,-4.5v8.6M439.5,-4.5v8.6M457.65,-4.5v8.6M476.4,-4.5v8.6M168.75,-4.5v8.6M193.4,-4.5v8.6M401.5,-4.5v8.6M420.3,-4.5v8.6" stroke="#8f8b8b" stroke-width="1.9" fill="none"/><path d="M169.75,6 V-39.4 H193.4 V-37.6 H192.4 V6 Z M167.8,-35.4 h2 v1.6 h-2z M172.4,-39.4 v-7.5 h0.7 v7.5z M174.3,-39.4 v-5 h2.6 v5 h-0.8 v-3 h-1 v3z M174.6,-44 l1.6,-4.6 l0.8,0.3 l-1,4.6z" fill="#656766"/><path d="M402.6,6 V-35.85 L405.4,-38.35 H408.5 V-42.5 H411.5 V-38.35 H417.25 L419.4,-35.85 V6 Z" fill="#656766"/><path d="M11.3,-11 V-21.5 H12.5 V-16.5 H13.3 V-12 H14.4 V0.5 H10 V-9.4 H8.5 V-10.8 H10 V-12 H11.3Z" fill="#1f6977"/><path d="M11.6,-8 V0.3 M13,-8 V0.3" stroke="#5f97a2" stroke-width="0.5"/><path d="M14.9,0.6 L17.5,-4.4 H18.5 V0.6Z" fill="#8f8b8b"/><rect x="60" y="4.1" width="436.4" height="3.4" fill="#656766"/><path d="M0,0 C30,0.5 55,1.5 76,5 C82,6 88,6.8 94,6.9 L496.6,6.9 L496.6,24.2 L493.5,27.4 L15.4,27.4 C15.6,20.5 8,11 0,0Z" fill="#165e6e"/><path d="M15.4,27.3 L15.4,29 C12,29 9,29.3 7,29.8 C3,30.8 1,32.5 1,34.8 C1,38 3,40.5 6,42.3 C11,45 20,46.65 30,46.65 L456,46.65 C463,46.65 468,44 474.75,40.4 L474.75,38.5 L471,38.5 C469,38.5 467.9,37 467.9,35.4 L467.9,32.9 C467.9,31.5 469.5,30.4 471,30.4 L474.75,30.4 L479.5,31.65 L485.4,45.15 L489.1,45.15 L493.5,27.3 Z M475,34.8 h1.3 v11.6 h-1.3z" fill="#592a2a"/><circle cx="6.9" cy="5.9" r="1.1" fill="#0b0b0b"/></g></g>
</g>
<path d="M110.5,1553.75 V1479.25 H193.75 V1553.75 Z" fill="#dce0e6"/><path d="M193.75,1479.25 L198.41,1486.44 V1553.75 H193.75 Z" fill="#c5c9cf"/><rect x="135.27" y="1497.5" width="58.18" height="56.25" fill="#878d93"/><path d="M110.5,1479.25 L135.27,1497.5" stroke="#a3abb2" stroke-width="0.7" fill="none"/>
<path d="M121,1546.95v6.8M134.75,1529.95v23.8M147,1529.95v23.8M220.5,1536.75v17" stroke="#4aa5bd" stroke-width="12" stroke-dasharray="2.8 0.6" fill="none"/><path d="M160.65,1536.75v17" stroke="#4aa5bd" stroke-width="11.3" stroke-dasharray="2.8 0.6" fill="none"/><path d="M173.5,1529.25v24.5" stroke="#4aa5bd" stroke-width="12" stroke-dasharray="2.9 0.6" fill="none"/><path d="M187.15,1536.75v17" stroke="#4aa5bd" stroke-width="11.8" stroke-dasharray="2.8 0.6" fill="none"/><path d="M206.85,1547.35v6.4" stroke="#4aa5bd" stroke-width="12.2" stroke-dasharray="2.6 0.6" fill="none"/>
<g transform="translate(261.25,1498.9) scale(1.13,1)"><path d="M-5.1,-44 H-7.5 V-48.6 L132.9,-84 M6.6,-44.8 L128.2,-80.7" stroke="#222226" stroke-width="0.8" fill="none"/><path d="M135.2,-81.3 V-58.95" stroke="#222226" stroke-width="0.8" fill="none"/><path d="M135.2,-23.55v12.3" stroke="#4aa5bd" stroke-width="15.9" stroke-dasharray="1.86 0.6" fill="none"/><path d="M135.2,-50.55 Q132,-35.05 130.45,-23.95 V-10.95 H139.95 V-23.95 Q138.4,-35.05 135.2,-50.55 M130.45,-23.95 H139.95 M135.2,-23.95 V-10.95" stroke="#222226" stroke-width="0.75" fill="none"/><rect x="133.9" y="-58.95" width="2.6" height="8.4" rx="0.6" fill="#f7a427"/><path d="M1.9,-42.1 L-24.2,-9.8 L-3.3,0.5 M-24.2,-9.8 V19" stroke="#f7a427" stroke-width="1.4" fill="none"/><path d="M-4.2,-0.4 L-8.9,20.2" stroke="#222226" stroke-width="0.9" fill="none"/><path d="M16.4,3.3 L5.6,39.9" stroke="#222226" stroke-width="1.3" fill="none"/><path d="M2.3,-43.5 L-3.3,-1" stroke="#222226" stroke-width="0.8" fill="none"/><path d="M3.7,-42 L2.1,-19" stroke="#222226" stroke-width="1.7" stroke-dasharray="0.6 0.7" fill="none"/><path d="M-2.8,-3 V-19 H0.9 V-3" stroke="#222226" stroke-width="0.9" fill="none"/><path d="M-0.95,-18.5 V-3" stroke="#222226" stroke-width="3" stroke-dasharray="1 2.2" fill="none"/><rect x="-3.4" y="1" width="7.1" height="40" fill="#222226"/><path d="M0.15,4.6 V41" stroke="#fff" stroke-width="5" stroke-dasharray="4.1 1.4" fill="none"/><path d="M11.7,-22 L3.7,-4.3" stroke="#f7a427" stroke-width="1.3" fill="none"/><rect x="4.7" y="-19.4" width="8" height="4.2" fill="#3a3d42"/><path d="M5.8,-19.4v4.2 M7.6,-19.4v4.2 M9.4,-19.4v4.2" stroke="#fff" stroke-width="0.6"/><rect x="11.9" y="-24.4" width="7.9" height="4.6" rx="0.6" fill="#4aa5bd"/><rect x="12.2" y="-20" width="8.6" height="5" fill="#26282d"/><path d="M14.3,-18.8v2.6 M16.5,-18.8v2.6 M18.7,-18.8v2.6" stroke="#3f7f92" stroke-width="1.2"/><path d="M4.7,-45.9 L1.6,-0.5" stroke="#f7a427" stroke-width="2.6" fill="none"/><circle cx="4.7" cy="-45.9" r="3" fill="#f7a427"/><path d="M-1.5,-2.5 L1.93,-4.48 L16.52,-13.21 L22.39,-3.72 L17.92,-0.49 L1.5,3.4 L-2.5,1.5 Z" fill="#f7a427"/><path d="M12.39,-9.44 L133.09,-82.49 M17.35,-1.41 L133.47,-81.86" stroke="#f7a427" stroke-width="2.16" fill="none"/><path d="M15.61,-10.88 L25.47,-7.56 L26.77,-17.64 L35.82,-14.73 L37.14,-23.91 L45.43,-21.39 L46.77,-29.74 L54.37,-27.59 L55.73,-35.16 L62.68,-33.34 L64.05,-40.2 L70.4,-38.69 L71.79,-44.88 L77.57,-43.66 L78.97,-49.23 L84.24,-48.28 L85.66,-53.27 L90.43,-52.57 L91.86,-57.03 L96.19,-56.56 L97.63,-60.52 L101.55,-60.27 L103,-63.77 L106.52,-63.71 L107.98,-66.79 L111.14,-66.91 L112.61,-69.59 L115.44,-69.89 L116.92,-72.19 L119.43,-72.66 L120.92,-74.62 L123.14,-75.23 L124.64,-76.87 L126.59,-77.62 L128.09,-78.96 L129.79,-79.84 L131.3,-80.9 M20,-3.78 L21.29,-14.32 L30.74,-11.21 L32.05,-20.83 L40.71,-18.12 L42.04,-26.88 L49.98,-24.55 L51.33,-32.5 L58.6,-30.51 L59.97,-37.73 L66.61,-36.06 L67.99,-42.58 L74.05,-41.22 L75.45,-47.1 L80.97,-46.01 L82.38,-51.29 L87.39,-50.46 L88.82,-55.19 L93.37,-54.6 L94.8,-58.81 L98.92,-58.45 L100.36,-62.18 L104.08,-62.02 L105.53,-65.31 L108.87,-65.34 L110.34,-68.21 L113.33,-68.43 L114.8,-70.92 L117.47,-71.3 L118.95,-73.43 L121.32,-73.97 L122.81,-75.76 L124.9,-76.44 L126.39,-77.93 L128.22,-78.75 L129.73,-79.95 L131.31,-80.89" stroke="#f7a427" stroke-width="1.6" stroke-linejoin="round" fill="none"/><path d="M103.05,-65.57 L130.82,-82.35 L133.4,-83.13 L134.38,-81.15 L105.69,-61.3 Z" fill="#f7a427"/><circle cx="133.2" cy="-82.3" r="2.1" fill="#f7a427"/><circle cx="0" cy="0.3" r="3.4" fill="#f7a427"/><path d="M-26.4,41 L-24.9,19.6 C-24.9,18.6 -24.3,17.8 -23,17.7 L-17.5,17.4 C-16.3,17.4 -15.6,18.2 -15.6,19.6 L-10.6,24.4 L-10.3,21.8 C-10.2,20.2 -9.2,19.4 -8,19.4 C-6.5,19.4 -5.6,20.3 -5.3,21.8 L-1.5,32.5 L-2.8,41 Z" fill="#f7a427"/><rect x="-23.4" y="20.1" width="10.3" height="3.5" fill="#8a8a8a" stroke="#333" stroke-width="0.5"/><path d="M-20.4,20.1v3.5 M-16.6,20.1v3.5" stroke="#333" stroke-width="0.5"/><rect x="-22" y="25" width="7.5" height="6.5" fill="#231f20"/><rect x="-12.2" y="25" width="6.6" height="6.5" fill="#231f20"/><rect x="-21.1" y="33.9" width="16.9" height="6.9" fill="#231f20"/><path d="M-3.4,32 L-3.4,41.6 H5.8 Z" fill="#eee" stroke="#222226" stroke-width="0.5"/><rect x="8" y="36.6" width="2.8" height="3.8" fill="#fff" stroke="#222226" stroke-width="0.7"/><path d="M-22,44.3 L-4,41.7 H3.5 L22,44.3 V47.9 H-22Z" fill="#9a9a9a" stroke="#3a3a3a" stroke-width="0.5"/><rect x="-1.9" y="41.7" width="4.3" height="6.6" fill="#f4f4f4" stroke="#3a3a3a" stroke-width="0.5"/><rect x="-10.8" y="48.1" width="8.9" height="5.9" fill="#44474a"/><rect x="1.9" y="48.1" width="8.9" height="5.9" fill="#44474a"/><path d="M-10.8,50.2h8.9 M1.9,50.2h8.9" stroke="#8a8a8a" stroke-width="0.7"/><rect x="-21.1" y="44.3" width="1.9" height="10" fill="#8a8a8a" stroke="#3a3a3a" stroke-width="0.4"/><rect x="-22.65" y="53.9" width="5" height="2.2" rx="0.5" fill="#b5b5b5" stroke="#3a3a3a" stroke-width="0.4"/><rect x="19.2" y="44.3" width="1.9" height="10" fill="#8a8a8a" stroke="#3a3a3a" stroke-width="0.4"/><rect x="17.65" y="53.9" width="5" height="2.2" rx="0.5" fill="#b5b5b5" stroke="#3a3a3a" stroke-width="0.4"/><circle cx="-24.2" cy="-9.8" r="1.3" fill="#222226"/></g>
<rect x="665.6" y="1542" width="584.4" height="54" fill="#7bbbd7"/>
<path d="M665.6,1542 H715.3 L722.4,1559.9 L824,1596 H665.6Z" fill="#a47664"/>
<g transform="translate(750.5,1519.5) scale(0.8600,0.8600)"><g><path d="M27.45,-15.66v19.76" stroke="#93cddb" stroke-width="17.9" fill="none"/><path d="M27.45,-15.66v19.76" stroke="#4aa5bd" stroke-width="17.9" stroke-dasharray="4.09 0.85" fill="none"/><path d="M46.95,-25.54v29.64M65.65,-25.54v29.64M84.35,-25.54v29.64M103.05,-25.54v29.64M121.75,-30.48v34.58M140.45,-30.48v34.58M159.15,-30.48v34.58M203.05,-30.48v34.58M221.94,-30.48v34.58M240.83,-30.48v34.58M259.72,-30.48v34.58M278.61,-30.48v34.58M297.5,-30.48v34.58M316.39,-30.48v34.58M335.28,-30.48v34.58M354.17,-30.48v34.58M373.06,-30.48v34.58M391.95,-30.48v34.58M430.05,-30.48v34.58M448.2,-30.48v34.58M466.95,-30.48v34.58M486.05,-30.48v34.58" stroke="#93cddb" stroke-width="16.9" fill="none"/><path d="M46.95,-25.54v29.64M65.65,-25.54v29.64M84.35,-25.54v29.64M103.05,-25.54v29.64M121.75,-30.48v34.58M140.45,-30.48v34.58M159.15,-30.48v34.58M203.05,-30.48v34.58M221.94,-30.48v34.58M240.83,-30.48v34.58M259.72,-30.48v34.58M278.61,-30.48v34.58M297.5,-30.48v34.58M316.39,-30.48v34.58M335.28,-30.48v34.58M354.17,-30.48v34.58M373.06,-30.48v34.58M391.95,-30.48v34.58M430.05,-30.48v34.58M448.2,-30.48v34.58M466.95,-30.48v34.58M486.05,-30.48v34.58" stroke="#4aa5bd" stroke-width="16.9" stroke-dasharray="4.09 0.85" fill="none"/><path d="M37.4,-4.5v8.6M56.4,-4.5v8.6M75.1,-4.5v8.6M93.8,-4.5v8.6M112.5,-4.5v8.6M131.2,-4.5v8.6M149.9,-4.5v8.6M212.5,-4.5v8.6M231.39,-4.5v8.6M250.28,-4.5v8.6M269.17,-4.5v8.6M288.06,-4.5v8.6M306.95,-4.5v8.6M325.84,-4.5v8.6M344.73,-4.5v8.6M363.62,-4.5v8.6M382.51,-4.5v8.6M439.5,-4.5v8.6M457.65,-4.5v8.6M476.4,-4.5v8.6M168.75,-4.5v8.6M193.4,-4.5v8.6M401.5,-4.5v8.6M420.3,-4.5v8.6" stroke="#8f8b8b" stroke-width="1.9" fill="none"/><path d="M169.75,6 V-39.4 H193.4 V-37.6 H192.4 V6 Z M167.8,-35.4 h2 v1.6 h-2z M172.4,-39.4 v-7.5 h0.7 v7.5z M174.3,-39.4 v-5 h2.6 v5 h-0.8 v-3 h-1 v3z M174.6,-44 l1.6,-4.6 l0.8,0.3 l-1,4.6z" fill="#656766"/><path d="M402.6,6 V-35.85 L405.4,-38.35 H408.5 V-42.5 H411.5 V-38.35 H417.25 L419.4,-35.85 V6 Z" fill="#656766"/><path d="M11.3,-11 V-21.5 H12.5 V-16.5 H13.3 V-12 H14.4 V0.5 H10 V-9.4 H8.5 V-10.8 H10 V-12 H11.3Z" fill="#1f6977"/><path d="M11.6,-8 V0.3 M13,-8 V0.3" stroke="#5f97a2" stroke-width="0.5"/><path d="M14.9,0.6 L17.5,-4.4 H18.5 V0.6Z" fill="#8f8b8b"/><rect x="60" y="4.1" width="436.4" height="3.4" fill="#656766"/><path d="M0,0 C30,0.5 55,1.5 76,5 C82,6 88,6.8 94,6.9 L496.6,6.9 L496.6,24.2 L493.5,27.4 L15.4,27.4 C15.6,20.5 8,11 0,0Z" fill="#165e6e"/><path d="M15.4,27.3 L15.4,29 C12,29 9,29.3 7,29.8 C3,30.8 1,32.5 1,34.8 C1,38 3,40.5 6,42.3 C11,45 20,46.65 30,46.65 L456,46.65 C463,46.65 468,44 474.75,40.4 L474.75,38.5 L471,38.5 C469,38.5 467.9,37 467.9,35.4 L467.9,32.9 C467.9,31.5 469.5,30.4 471,30.4 L474.75,30.4 L479.5,31.65 L485.4,45.15 L489.1,45.15 L493.5,27.3 Z M475,34.8 h1.3 v11.6 h-1.3z" fill="#592a2a"/><circle cx="26.25" cy="2.2" r="1.1" fill="#0b0b0b"/></g></g>
<g transform="translate(927,1587.3) scale(1.0000,1.0000)"><ellipse cx="25" cy="0.2" rx="46" ry="2.6" fill="#4aa5bd" opacity="0.7"/><path d="M0,-5 L4,-8.6 L62,-11.5 L75,-9.2 L71.5,-2.5 C70,-0.8 68,0 66,0 L8,0 C4,0 1.5,-2 0,-5Z" fill="#15171c"/><path d="M4,-8.6 L62,-11.5 L62.5,-10 L5,-7Z" fill="#2a3f57"/><path d="M3,-1.2 C20,0.6 60,0.6 70,-1.5 L69,-0.4 C60,1 15,1 4,0Z" fill="#7a3b2e"/><circle cx="41.5" cy="-4.3" r="1.5" fill="none" stroke="#e8e8e8" stroke-width="0.6"/><circle cx="45.9" cy="-4.3" r="1.5" fill="none" stroke="#e8e8e8" stroke-width="0.6"/><circle cx="50.3" cy="-4.3" r="1.5" fill="none" stroke="#e8e8e8" stroke-width="0.6"/><circle cx="54.7" cy="-4.3" r="1.5" fill="none" stroke="#e8e8e8" stroke-width="0.6"/><circle cx="59.1" cy="-4.3" r="1.5" fill="none" stroke="#e8e8e8" stroke-width="0.6"/><circle cx="63.5" cy="-4.3" r="1.5" fill="none" stroke="#e8e8e8" stroke-width="0.6"/><path d="M67,-7.5 h5" stroke="#cfcfcf" stroke-width="0.7"/><path d="M27.5,-10 L28.5,-13.5 L38,-14.5 V-23.5 H49.5 V-16.5 L61,-14 L61.5,-11.3 Z" fill="#ddd2bd"/><rect x="37.5" y="-24" width="12.5" height="3.2" rx="0.8" fill="#d9493a"/><path d="M40,-19.5h1.8v3h-1.8z M44,-19.5h1.8v3h-1.8z M47.3,-19.5h1.4v3h-1.4z M39.5,-12h1.5v2.2h-1.5z M44.5,-12h1.5v2.2h-1.5z" fill="#2a3f57"/><path d="M34,-14 V-27 L32.3,-27.5 V-29 H38 V-14Z" fill="#1e3550"/><path d="M36.8,-29 V-42.5 h1.2 V-29z" fill="#1e3550"/><path d="M40.6,-24 V-38.5" stroke="#c9b9a8" stroke-width="0.5"/><circle cx="65" cy="-13" r="2.6" fill="#15171c"/></g>
<g transform="translate(1194.5,1547.2) scale(0.4240,0.4240)"><ellipse cx="25" cy="0.2" rx="46" ry="2.6" fill="#4aa5bd" opacity="0.7"/><path d="M0,-5 L4,-8.6 L62,-11.5 L75,-9.2 L71.5,-2.5 C70,-0.8 68,0 66,0 L8,0 C4,0 1.5,-2 0,-5Z" fill="#15171c"/><path d="M4,-8.6 L62,-11.5 L62.5,-10 L5,-7Z" fill="#2a3f57"/><path d="M3,-1.2 C20,0.6 60,0.6 70,-1.5 L69,-0.4 C60,1 15,1 4,0Z" fill="#7a3b2e"/><circle cx="41.5" cy="-4.3" r="1.5" fill="none" stroke="#e8e8e8" stroke-width="0.6"/><circle cx="45.9" cy="-4.3" r="1.5" fill="none" stroke="#e8e8e8" stroke-width="0.6"/><circle cx="50.3" cy="-4.3" r="1.5" fill="none" stroke="#e8e8e8" stroke-width="0.6"/><circle cx="54.7" cy="-4.3" r="1.5" fill="none" stroke="#e8e8e8" stroke-width="0.6"/><circle cx="59.1" cy="-4.3" r="1.5" fill="none" stroke="#e8e8e8" stroke-width="0.6"/><circle cx="63.5" cy="-4.3" r="1.5" fill="none" stroke="#e8e8e8" stroke-width="0.6"/><path d="M67,-7.5 h5" stroke="#cfcfcf" stroke-width="0.7"/><path d="M27.5,-10 L28.5,-13.5 L38,-14.5 V-23.5 H49.5 V-16.5 L61,-14 L61.5,-11.3 Z" fill="#ddd2bd"/><rect x="37.5" y="-24" width="12.5" height="3.2" rx="0.8" fill="#d9493a"/><path d="M40,-19.5h1.8v3h-1.8z M44,-19.5h1.8v3h-1.8z M47.3,-19.5h1.4v3h-1.4z M39.5,-12h1.5v2.2h-1.5z M44.5,-12h1.5v2.2h-1.5z" fill="#2a3f57"/><path d="M34,-14 V-27 L32.3,-27.5 V-29 H38 V-14Z" fill="#1e3550"/><path d="M36.8,-29 V-42.5 h1.2 V-29z" fill="#1e3550"/><path d="M40.6,-24 V-38.5" stroke="#c9b9a8" stroke-width="0.5"/><circle cx="65" cy="-13" r="2.6" fill="#15171c"/></g>
<path d="M778.6,1521 C800,1546 862,1580 928,1581.5" stroke="#111" stroke-width="1.7" fill="none"/>
<path d="M1177.3,1526.2 C1181,1536 1188,1543.2 1199,1544.3" stroke="#111" stroke-width="1.6" fill="none"/>
<path d="M831.9,1571.5 L877,1589" stroke="#1d6b7b" stroke-width="2" fill="none"/>
<path d="M880.5,1590.3 L870.6,1591.5 L874,1582.6Z" fill="#1d6b7b"/>
<rect x="32.5" y="1835.8" width="583.5" height="47.8" fill="#dce0e6"/>
<path d="M46,1845 V1744 H157.25 V1845 Z" fill="#dce0e6"/><path d="M157.25,1744 L163.5,1753.75 V1845 H157.25 Z" fill="#c5c9cf"/><rect x="79.1" y="1768.74" width="77.85" height="76.26" fill="#878d93"/><path d="M46,1744 L79.1,1768.74" stroke="#a3abb2" stroke-width="0.7" fill="none"/>
<path d="M59.9,1836v9" stroke="#4aa5bd" stroke-width="16" stroke-dasharray="3.8 0.7" fill="none"/><path d="M77.8,1813.15v31.85" stroke="#4aa5bd" stroke-width="15.6" stroke-dasharray="3.85 0.7" fill="none"/><path d="M94.9,1813.15v31.85" stroke="#4aa5bd" stroke-width="16" stroke-dasharray="3.85 0.7" fill="none"/><path d="M112.5,1821.5v23.5" stroke="#4aa5bd" stroke-width="15.5" stroke-dasharray="4 0.7" fill="none"/><path d="M130,1812.1v32.9" stroke="#4aa5bd" stroke-width="16.2" stroke-dasharray="4 0.7" fill="none"/><path d="M147.8,1821.5v23.5" stroke="#4aa5bd" stroke-width="15.6" stroke-dasharray="4 0.7" fill="none"/>
<g transform="translate(190.3,1863.9) scale(1.0000)"><path d="M0,-6.1 V-39.5 C0,-43.2 2,-45.4 5.5,-47 C11,-49.2 19,-50.5 29,-51.5 C30.3,-51.6 30.8,-51 30.8,-50 V-46 H34.5 V-18 H31 V-6.1 Z" fill="#c3cfd6"/><rect x="30.9" y="-46" width="3.6" height="28" fill="#b5c3cb"/><rect x="3.7" y="-37.9" width="10.4" height="9" fill="#eef1f3"/><rect x="0" y="-37.9" width="2.4" height="9" fill="#eef1f3"/><rect x="0" y="-13.5" width="7" height="7.4" fill="#ccd7dd"/><rect x="0" y="-18.6" width="196.6" height="12.5" fill="#bfcbd2"/><rect x="34.1" y="-18.6" width="162" height="2.6" fill="#b3c1c9"/><rect x="186.6" y="-15.7" width="15.9" height="9.6" fill="#555b5c"/><rect x="186.6" y="-16.1" width="22.5" height="1.7" fill="#555b5c"/><rect x="34.1" y="-55.8" width="175" height="37.5" fill="#c3cfd6"/><path d="M51.05,-42.85v22.75M69.85,-51.95v31.85M86.05,-51.95v31.85M103.95,-42.85v22.75M121.4,-51.95v31.85M137.6,-51.95v31.85M156.05,-42.85v22.75M173.35,-51.95v31.85M189.55,-51.95v31.85" stroke="#4aa5bd" stroke-width="15.9" stroke-dasharray="3.85 0.7" fill="none"/><circle cx="15.95" cy="-7.9" r="9.05" fill="#fff"/><circle cx="55.7" cy="-7.9" r="9.05" fill="#fff"/><circle cx="75" cy="-7.9" r="9.05" fill="#fff"/><circle cx="141.6" cy="-7.9" r="9.05" fill="#fff"/><circle cx="160.3" cy="-7.9" r="9.05" fill="#fff"/><circle cx="179.45" cy="-7.9" r="9.05" fill="#fff"/><circle cx="15.95" cy="-7.9" r="7.9" fill="#555b5c"/><circle cx="15.95" cy="-7.9" r="3.5" fill="#7d8384"/><circle cx="55.7" cy="-7.9" r="7.9" fill="#555b5c"/><circle cx="55.7" cy="-7.9" r="3.5" fill="#7d8384"/><circle cx="75" cy="-7.9" r="7.9" fill="#555b5c"/><circle cx="75" cy="-7.9" r="3.5" fill="#7d8384"/><circle cx="141.6" cy="-7.9" r="7.9" fill="#555b5c"/><circle cx="141.6" cy="-7.9" r="3.5" fill="#7d8384"/><circle cx="160.3" cy="-7.9" r="7.9" fill="#555b5c"/><circle cx="160.3" cy="-7.9" r="3.5" fill="#7d8384"/><circle cx="179.45" cy="-7.9" r="7.9" fill="#555b5c"/><circle cx="179.45" cy="-7.9" r="3.5" fill="#7d8384"/></g>
<g transform="translate(410,1843.45) scale(0.9430)"><path d="M0,-6.1 V-39.5 C0,-43.2 2,-45.4 5.5,-47 C11,-49.2 19,-50.5 29,-51.5 C30.3,-51.6 30.8,-51 30.8,-50 V-46 H34.5 V-18 H31 V-6.1 Z" fill="#c3cfd6"/><rect x="30.9" y="-46" width="3.6" height="28" fill="#b5c3cb"/><rect x="3.7" y="-37.9" width="10.4" height="9" fill="#eef1f3"/><rect x="0" y="-37.9" width="2.4" height="9" fill="#eef1f3"/><rect x="0" y="-13.5" width="7" height="7.4" fill="#ccd7dd"/><rect x="0" y="-18.6" width="196.6" height="12.5" fill="#bfcbd2"/><rect x="34.1" y="-18.6" width="162" height="2.6" fill="#b3c1c9"/><rect x="186.6" y="-15.7" width="15.9" height="9.6" fill="#555b5c"/><rect x="186.6" y="-16.1" width="22.5" height="1.7" fill="#555b5c"/><rect x="34.1" y="-55.8" width="175" height="37.5" fill="#c3cfd6"/><path d="M51.05,-42.85v22.75M69.85,-51.95v31.85M86.05,-51.95v31.85M103.95,-42.85v22.75M121.4,-51.95v31.85M137.6,-51.95v31.85M156.05,-42.85v22.75M173.35,-51.95v31.85M189.55,-51.95v31.85" stroke="#4aa5bd" stroke-width="15.9" stroke-dasharray="3.85 0.7" fill="none"/><circle cx="15.95" cy="-7.9" r="9.05" fill="#fff"/><circle cx="55.7" cy="-7.9" r="9.05" fill="#fff"/><circle cx="75" cy="-7.9" r="9.05" fill="#fff"/><circle cx="141.6" cy="-7.9" r="9.05" fill="#fff"/><circle cx="160.3" cy="-7.9" r="9.05" fill="#fff"/><circle cx="179.45" cy="-7.9" r="9.05" fill="#fff"/><circle cx="15.95" cy="-7.9" r="7.9" fill="#555b5c"/><circle cx="15.95" cy="-7.9" r="3.5" fill="#7d8384"/><circle cx="55.7" cy="-7.9" r="7.9" fill="#555b5c"/><circle cx="55.7" cy="-7.9" r="3.5" fill="#7d8384"/><circle cx="75" cy="-7.9" r="7.9" fill="#555b5c"/><circle cx="75" cy="-7.9" r="3.5" fill="#7d8384"/><circle cx="141.6" cy="-7.9" r="7.9" fill="#555b5c"/><circle cx="141.6" cy="-7.9" r="3.5" fill="#7d8384"/><circle cx="160.3" cy="-7.9" r="7.9" fill="#555b5c"/><circle cx="160.3" cy="-7.9" r="3.5" fill="#7d8384"/><circle cx="179.45" cy="-7.9" r="7.9" fill="#555b5c"/><circle cx="179.45" cy="-7.9" r="3.5" fill="#7d8384"/></g>
<rect x="666.1" y="1826.3" width="583.9" height="57.5" fill="#7bbbd7"/>
<path d="M1205.2,1826.6 H1251.5 V1883.8 H1181.2Z" fill="#a47664"/>
<g filter="url(#fog4)">
<g transform="translate(1197.8,1810.7) scale(-0.5170,0.5170)"><g><path d="M27.45,-15.66v19.76" stroke="#93cddb" stroke-width="17.9" fill="none"/><path d="M27.45,-15.66v19.76" stroke="#4aa5bd" stroke-width="17.9" stroke-dasharray="4.09 0.85" fill="none"/><path d="M46.95,-25.54v29.64M65.65,-25.54v29.64M84.35,-25.54v29.64M103.05,-25.54v29.64M121.75,-30.48v34.58M140.45,-30.48v34.58M159.15,-30.48v34.58M203.05,-30.48v34.58M221.94,-30.48v34.58M240.83,-30.48v34.58M259.72,-30.48v34.58M278.61,-30.48v34.58M297.5,-30.48v34.58M316.39,-30.48v34.58M335.28,-30.48v34.58M354.17,-30.48v34.58M373.06,-30.48v34.58M391.95,-30.48v34.58M430.05,-30.48v34.58M448.2,-30.48v34.58M466.95,-30.48v34.58M486.05,-30.48v34.58" stroke="#93cddb" stroke-width="16.9" fill="none"/><path d="M46.95,-25.54v29.64M65.65,-25.54v29.64M84.35,-25.54v29.64M103.05,-25.54v29.64M121.75,-30.48v34.58M140.45,-30.48v34.58M159.15,-30.48v34.58M203.05,-30.48v34.58M221.94,-30.48v34.58M240.83,-30.48v34.58M259.72,-30.48v34.58M278.61,-30.48v34.58M297.5,-30.48v34.58M316.39,-30.48v34.58M335.28,-30.48v34.58M354.17,-30.48v34.58M373.06,-30.48v34.58M391.95,-30.48v34.58M430.05,-30.48v34.58M448.2,-30.48v34.58M466.95,-30.48v34.58M486.05,-30.48v34.58" stroke="#4aa5bd" stroke-width="16.9" stroke-dasharray="4.09 0.85" fill="none"/><path d="M37.4,-4.5v8.6M56.4,-4.5v8.6M75.1,-4.5v8.6M93.8,-4.5v8.6M112.5,-4.5v8.6M131.2,-4.5v8.6M149.9,-4.5v8.6M212.5,-4.5v8.6M231.39,-4.5v8.6M250.28,-4.5v8.6M269.17,-4.5v8.6M288.06,-4.5v8.6M306.95,-4.5v8.6M325.84,-4.5v8.6M344.73,-4.5v8.6M363.62,-4.5v8.6M382.51,-4.5v8.6M439.5,-4.5v8.6M457.65,-4.5v8.6M476.4,-4.5v8.6M168.75,-4.5v8.6M193.4,-4.5v8.6M401.5,-4.5v8.6M420.3,-4.5v8.6" stroke="#8f8b8b" stroke-width="1.9" fill="none"/><path d="M169.75,6 V-39.4 H193.4 V-37.6 H192.4 V6 Z M167.8,-35.4 h2 v1.6 h-2z M172.4,-39.4 v-7.5 h0.7 v7.5z M174.3,-39.4 v-5 h2.6 v5 h-0.8 v-3 h-1 v3z M174.6,-44 l1.6,-4.6 l0.8,0.3 l-1,4.6z" fill="#656766"/><path d="M402.6,6 V-35.85 L405.4,-38.35 H408.5 V-42.5 H411.5 V-38.35 H417.25 L419.4,-35.85 V6 Z" fill="#656766"/><path d="M11.3,-11 V-21.5 H12.5 V-16.5 H13.3 V-12 H14.4 V0.5 H10 V-9.4 H8.5 V-10.8 H10 V-12 H11.3Z" fill="#1f6977"/><path d="M11.6,-8 V0.3 M13,-8 V0.3" stroke="#5f97a2" stroke-width="0.5"/><path d="M14.9,0.6 L17.5,-4.4 H18.5 V0.6Z" fill="#8f8b8b"/><rect x="60" y="4.1" width="436.4" height="3.4" fill="#656766"/><path d="M0,0 C30,0.5 55,1.5 76,5 C82,6 88,6.8 94,6.9 L496.6,6.9 L496.6,24.2 L493.5,27.4 L15.4,27.4 C15.6,20.5 8,11 0,0Z" fill="#165e6e"/><path d="M15.4,27.3 L15.4,29 C12,29 9,29.3 7,29.8 C3,30.8 1,32.5 1,34.8 C1,38 3,40.5 6,42.3 C11,45 20,46.65 30,46.65 L456,46.65 C463,46.65 468,44 474.75,40.4 L474.75,38.5 L471,38.5 C469,38.5 467.9,37 467.9,35.4 L467.9,32.9 C467.9,31.5 469.5,30.4 471,30.4 L474.75,30.4 L479.5,31.65 L485.4,45.15 L489.1,45.15 L493.5,27.3 Z M475,34.8 h1.3 v11.6 h-1.3z" fill="#592a2a"/><circle cx="26.25" cy="2.2" r="1.1" fill="#0b0b0b"/></g></g>
</g>
<g filter="url(#fog3)">
<g transform="translate(1182.7,1813) scale(-0.6000,0.6000)"><g><path d="M27.45,-15.66v19.76" stroke="#93cddb" stroke-width="17.9" fill="none"/><path d="M27.45,-15.66v19.76" stroke="#4aa5bd" stroke-width="17.9" stroke-dasharray="4.09 0.85" fill="none"/><path d="M46.95,-25.54v29.64M65.65,-25.54v29.64M84.35,-25.54v29.64M103.05,-25.54v29.64M121.75,-30.48v34.58M140.45,-30.48v34.58M159.15,-30.48v34.58M203.05,-30.48v34.58M221.94,-30.48v34.58M240.83,-30.48v34.58M259.72,-30.48v34.58M278.61,-30.48v34.58M297.5,-30.48v34.58M316.39,-30.48v34.58M335.28,-30.48v34.58M354.17,-30.48v34.58M373.06,-30.48v34.58M391.95,-30.48v34.58M430.05,-30.48v34.58M448.2,-30.48v34.58M466.95,-30.48v34.58M486.05,-30.48v34.58" stroke="#93cddb" stroke-width="16.9" fill="none"/><path d="M46.95,-25.54v29.64M65.65,-25.54v29.64M84.35,-25.54v29.64M103.05,-25.54v29.64M121.75,-30.48v34.58M140.45,-30.48v34.58M159.15,-30.48v34.58M203.05,-30.48v34.58M221.94,-30.48v34.58M240.83,-30.48v34.58M259.72,-30.48v34.58M278.61,-30.48v34.58M297.5,-30.48v34.58M316.39,-30.48v34.58M335.28,-30.48v34.58M354.17,-30.48v34.58M373.06,-30.48v34.58M391.95,-30.48v34.58M430.05,-30.48v34.58M448.2,-30.48v34.58M466.95,-30.48v34.58M486.05,-30.48v34.58" stroke="#4aa5bd" stroke-width="16.9" stroke-dasharray="4.09 0.85" fill="none"/><path d="M37.4,-4.5v8.6M56.4,-4.5v8.6M75.1,-4.5v8.6M93.8,-4.5v8.6M112.5,-4.5v8.6M131.2,-4.5v8.6M149.9,-4.5v8.6M212.5,-4.5v8.6M231.39,-4.5v8.6M250.28,-4.5v8.6M269.17,-4.5v8.6M288.06,-4.5v8.6M306.95,-4.5v8.6M325.84,-4.5v8.6M344.73,-4.5v8.6M363.62,-4.5v8.6M382.51,-4.5v8.6M439.5,-4.5v8.6M457.65,-4.5v8.6M476.4,-4.5v8.6M168.75,-4.5v8.6M193.4,-4.5v8.6M401.5,-4.5v8.6M420.3,-4.5v8.6" stroke="#8f8b8b" stroke-width="1.9" fill="none"/><path d="M169.75,6 V-39.4 H193.4 V-37.6 H192.4 V6 Z M167.8,-35.4 h2 v1.6 h-2z M172.4,-39.4 v-7.5 h0.7 v7.5z M174.3,-39.4 v-5 h2.6 v5 h-0.8 v-3 h-1 v3z M174.6,-44 l1.6,-4.6 l0.8,0.3 l-1,4.6z" fill="#656766"/><path d="M402.6,6 V-35.85 L405.4,-38.35 H408.5 V-42.5 H411.5 V-38.35 H417.25 L419.4,-35.85 V6 Z" fill="#656766"/><path d="M11.3,-11 V-21.5 H12.5 V-16.5 H13.3 V-12 H14.4 V0.5 H10 V-9.4 H8.5 V-10.8 H10 V-12 H11.3Z" fill="#1f6977"/><path d="M11.6,-8 V0.3 M13,-8 V0.3" stroke="#5f97a2" stroke-width="0.5"/><path d="M14.9,0.6 L17.5,-4.4 H18.5 V0.6Z" fill="#8f8b8b"/><rect x="60" y="4.1" width="436.4" height="3.4" fill="#656766"/><path d="M0,0 C30,0.5 55,1.5 76,5 C82,6 88,6.8 94,6.9 L496.6,6.9 L496.6,24.2 L493.5,27.4 L15.4,27.4 C15.6,20.5 8,11 0,0Z" fill="#165e6e"/><path d="M15.4,27.3 L15.4,29 C12,29 9,29.3 7,29.8 C3,30.8 1,32.5 1,34.8 C1,38 3,40.5 6,42.3 C11,45 20,46.65 30,46.65 L456,46.65 C463,46.65 468,44 474.75,40.4 L474.75,38.5 L471,38.5 C469,38.5 467.9,37 467.9,35.4 L467.9,32.9 C467.9,31.5 469.5,30.4 471,30.4 L474.75,30.4 L479.5,31.65 L485.4,45.15 L489.1,45.15 L493.5,27.3 Z M475,34.8 h1.3 v11.6 h-1.3z" fill="#592a2a"/><circle cx="26.25" cy="2.2" r="1.1" fill="#0b0b0b"/></g></g>
</g>
<g filter="url(#fog2)">
<g transform="translate(1164,1819.4) scale(-0.6480,0.6480)"><g><path d="M27.45,-15.66v19.76" stroke="#93cddb" stroke-width="17.9" fill="none"/><path d="M27.45,-15.66v19.76" stroke="#4aa5bd" stroke-width="17.9" stroke-dasharray="4.09 0.85" fill="none"/><path d="M46.95,-25.54v29.64M65.65,-25.54v29.64M84.35,-25.54v29.64M103.05,-25.54v29.64M121.75,-30.48v34.58M140.45,-30.48v34.58M159.15,-30.48v34.58M203.05,-30.48v34.58M221.94,-30.48v34.58M240.83,-30.48v34.58M259.72,-30.48v34.58M278.61,-30.48v34.58M297.5,-30.48v34.58M316.39,-30.48v34.58M335.28,-30.48v34.58M354.17,-30.48v34.58M373.06,-30.48v34.58M391.95,-30.48v34.58M430.05,-30.48v34.58M448.2,-30.48v34.58M466.95,-30.48v34.58M486.05,-30.48v34.58" stroke="#93cddb" stroke-width="16.9" fill="none"/><path d="M46.95,-25.54v29.64M65.65,-25.54v29.64M84.35,-25.54v29.64M103.05,-25.54v29.64M121.75,-30.48v34.58M140.45,-30.48v34.58M159.15,-30.48v34.58M203.05,-30.48v34.58M221.94,-30.48v34.58M240.83,-30.48v34.58M259.72,-30.48v34.58M278.61,-30.48v34.58M297.5,-30.48v34.58M316.39,-30.48v34.58M335.28,-30.48v34.58M354.17,-30.48v34.58M373.06,-30.48v34.58M391.95,-30.48v34.58M430.05,-30.48v34.58M448.2,-30.48v34.58M466.95,-30.48v34.58M486.05,-30.48v34.58" stroke="#4aa5bd" stroke-width="16.9" stroke-dasharray="4.09 0.85" fill="none"/><path d="M37.4,-4.5v8.6M56.4,-4.5v8.6M75.1,-4.5v8.6M93.8,-4.5v8.6M112.5,-4.5v8.6M131.2,-4.5v8.6M149.9,-4.5v8.6M212.5,-4.5v8.6M231.39,-4.5v8.6M250.28,-4.5v8.6M269.17,-4.5v8.6M288.06,-4.5v8.6M306.95,-4.5v8.6M325.84,-4.5v8.6M344.73,-4.5v8.6M363.62,-4.5v8.6M382.51,-4.5v8.6M439.5,-4.5v8.6M457.65,-4.5v8.6M476.4,-4.5v8.6M168.75,-4.5v8.6M193.4,-4.5v8.6M401.5,-4.5v8.6M420.3,-4.5v8.6" stroke="#8f8b8b" stroke-width="1.9" fill="none"/><path d="M169.75,6 V-39.4 H193.4 V-37.6 H192.4 V6 Z M167.8,-35.4 h2 v1.6 h-2z M172.4,-39.4 v-7.5 h0.7 v7.5z M174.3,-39.4 v-5 h2.6 v5 h-0.8 v-3 h-1 v3z M174.6,-44 l1.6,-4.6 l0.8,0.3 l-1,4.6z" fill="#656766"/><path d="M402.6,6 V-35.85 L405.4,-38.35 H408.5 V-42.5 H411.5 V-38.35 H417.25 L419.4,-35.85 V6 Z" fill="#656766"/><path d="M11.3,-11 V-21.5 H12.5 V-16.5 H13.3 V-12 H14.4 V0.5 H10 V-9.4 H8.5 V-10.8 H10 V-12 H11.3Z" fill="#1f6977"/><path d="M11.6,-8 V0.3 M13,-8 V0.3" stroke="#5f97a2" stroke-width="0.5"/><path d="M14.9,0.6 L17.5,-4.4 H18.5 V0.6Z" fill="#8f8b8b"/><rect x="60" y="4.1" width="436.4" height="3.4" fill="#656766"/><path d="M0,0 C30,0.5 55,1.5 76,5 C82,6 88,6.8 94,6.9 L496.6,6.9 L496.6,24.2 L493.5,27.4 L15.4,27.4 C15.6,20.5 8,11 0,0Z" fill="#165e6e"/><path d="M15.4,27.3 L15.4,29 C12,29 9,29.3 7,29.8 C3,30.8 1,32.5 1,34.8 C1,38 3,40.5 6,42.3 C11,45 20,46.65 30,46.65 L456,46.65 C463,46.65 468,44 474.75,40.4 L474.75,38.5 L471,38.5 C469,38.5 467.9,37 467.9,35.4 L467.9,32.9 C467.9,31.5 469.5,30.4 471,30.4 L474.75,30.4 L479.5,31.65 L485.4,45.15 L489.1,45.15 L493.5,27.3 Z M475,34.8 h1.3 v11.6 h-1.3z" fill="#592a2a"/><circle cx="26.25" cy="2.2" r="1.1" fill="#0b0b0b"/></g></g>
</g>
<g filter="url(#fog1)">
<g transform="translate(1144,1824.7) scale(-0.7470,0.7470)"><g><path d="M27.45,-15.66v19.76" stroke="#93cddb" stroke-width="17.9" fill="none"/><path d="M27.45,-15.66v19.76" stroke="#4aa5bd" stroke-width="17.9" stroke-dasharray="4.09 0.85" fill="none"/><path d="M46.95,-25.54v29.64M65.65,-25.54v29.64M84.35,-25.54v29.64M103.05,-25.54v29.64M121.75,-30.48v34.58M140.45,-30.48v34.58M159.15,-30.48v34.58M203.05,-30.48v34.58M221.94,-30.48v34.58M240.83,-30.48v34.58M259.72,-30.48v34.58M278.61,-30.48v34.58M297.5,-30.48v34.58M316.39,-30.48v34.58M335.28,-30.48v34.58M354.17,-30.48v34.58M373.06,-30.48v34.58M391.95,-30.48v34.58M430.05,-30.48v34.58M448.2,-30.48v34.58M466.95,-30.48v34.58M486.05,-30.48v34.58" stroke="#93cddb" stroke-width="16.9" fill="none"/><path d="M46.95,-25.54v29.64M65.65,-25.54v29.64M84.35,-25.54v29.64M103.05,-25.54v29.64M121.75,-30.48v34.58M140.45,-30.48v34.58M159.15,-30.48v34.58M203.05,-30.48v34.58M221.94,-30.48v34.58M240.83,-30.48v34.58M259.72,-30.48v34.58M278.61,-30.48v34.58M297.5,-30.48v34.58M316.39,-30.48v34.58M335.28,-30.48v34.58M354.17,-30.48v34.58M373.06,-30.48v34.58M391.95,-30.48v34.58M430.05,-30.48v34.58M448.2,-30.48v34.58M466.95,-30.48v34.58M486.05,-30.48v34.58" stroke="#4aa5bd" stroke-width="16.9" stroke-dasharray="4.09 0.85" fill="none"/><path d="M37.4,-4.5v8.6M56.4,-4.5v8.6M75.1,-4.5v8.6M93.8,-4.5v8.6M112.5,-4.5v8.6M131.2,-4.5v8.6M149.9,-4.5v8.6M212.5,-4.5v8.6M231.39,-4.5v8.6M250.28,-4.5v8.6M269.17,-4.5v8.6M288.06,-4.5v8.6M306.95,-4.5v8.6M325.84,-4.5v8.6M344.73,-4.5v8.6M363.62,-4.5v8.6M382.51,-4.5v8.6M439.5,-4.5v8.6M457.65,-4.5v8.6M476.4,-4.5v8.6M168.75,-4.5v8.6M193.4,-4.5v8.6M401.5,-4.5v8.6M420.3,-4.5v8.6" stroke="#8f8b8b" stroke-width="1.9" fill="none"/><path d="M169.75,6 V-39.4 H193.4 V-37.6 H192.4 V6 Z M167.8,-35.4 h2 v1.6 h-2z M172.4,-39.4 v-7.5 h0.7 v7.5z M174.3,-39.4 v-5 h2.6 v5 h-0.8 v-3 h-1 v3z M174.6,-44 l1.6,-4.6 l0.8,0.3 l-1,4.6z" fill="#656766"/><path d="M402.6,6 V-35.85 L405.4,-38.35 H408.5 V-42.5 H411.5 V-38.35 H417.25 L419.4,-35.85 V6 Z" fill="#656766"/><path d="M11.3,-11 V-21.5 H12.5 V-16.5 H13.3 V-12 H14.4 V0.5 H10 V-9.4 H8.5 V-10.8 H10 V-12 H11.3Z" fill="#1f6977"/><path d="M11.6,-8 V0.3 M13,-8 V0.3" stroke="#5f97a2" stroke-width="0.5"/><path d="M14.9,0.6 L17.5,-4.4 H18.5 V0.6Z" fill="#8f8b8b"/><rect x="60" y="4.1" width="436.4" height="3.4" fill="#656766"/><path d="M0,0 C30,0.5 55,1.5 76,5 C82,6 88,6.8 94,6.9 L496.6,6.9 L496.6,24.2 L493.5,27.4 L15.4,27.4 C15.6,20.5 8,11 0,0Z" fill="#165e6e"/><path d="M15.4,27.3 L15.4,29 C12,29 9,29.3 7,29.8 C3,30.8 1,32.5 1,34.8 C1,38 3,40.5 6,42.3 C11,45 20,46.65 30,46.65 L456,46.65 C463,46.65 468,44 474.75,40.4 L474.75,38.5 L471,38.5 C469,38.5 467.9,37 467.9,35.4 L467.9,32.9 C467.9,31.5 469.5,30.4 471,30.4 L474.75,30.4 L479.5,31.65 L485.4,45.15 L489.1,45.15 L493.5,27.3 Z M475,34.8 h1.3 v11.6 h-1.3z" fill="#592a2a"/><circle cx="26.25" cy="2.2" r="1.1" fill="#0b0b0b"/></g></g>
</g>
<g transform="translate(1125,1831.75) scale(-0.8465,0.8465)"><g><path d="M27.45,-15.66v19.76" stroke="#93cddb" stroke-width="17.9" fill="none"/><path d="M27.45,-15.66v19.76" stroke="#4aa5bd" stroke-width="17.9" stroke-dasharray="4.09 0.85" fill="none"/><path d="M46.95,-25.54v29.64M65.65,-25.54v29.64M84.35,-25.54v29.64M103.05,-25.54v29.64M121.75,-30.48v34.58M140.45,-30.48v34.58M159.15,-30.48v34.58M203.05,-30.48v34.58M221.94,-30.48v34.58M240.83,-30.48v34.58M259.72,-30.48v34.58M278.61,-30.48v34.58M297.5,-30.48v34.58M316.39,-30.48v34.58M335.28,-30.48v34.58M354.17,-30.48v34.58M373.06,-30.48v34.58M391.95,-30.48v34.58M430.05,-30.48v34.58M448.2,-30.48v34.58M466.95,-30.48v34.58M486.05,-30.48v34.58" stroke="#93cddb" stroke-width="16.9" fill="none"/><path d="M46.95,-25.54v29.64M65.65,-25.54v29.64M84.35,-25.54v29.64M103.05,-25.54v29.64M121.75,-30.48v34.58M140.45,-30.48v34.58M159.15,-30.48v34.58M203.05,-30.48v34.58M221.94,-30.48v34.58M240.83,-30.48v34.58M259.72,-30.48v34.58M278.61,-30.48v34.58M297.5,-30.48v34.58M316.39,-30.48v34.58M335.28,-30.48v34.58M354.17,-30.48v34.58M373.06,-30.48v34.58M391.95,-30.48v34.58M430.05,-30.48v34.58M448.2,-30.48v34.58M466.95,-30.48v34.58M486.05,-30.48v34.58" stroke="#4aa5bd" stroke-width="16.9" stroke-dasharray="4.09 0.85" fill="none"/><path d="M37.4,-4.5v8.6M56.4,-4.5v8.6M75.1,-4.5v8.6M93.8,-4.5v8.6M112.5,-4.5v8.6M131.2,-4.5v8.6M149.9,-4.5v8.6M212.5,-4.5v8.6M231.39,-4.5v8.6M250.28,-4.5v8.6M269.17,-4.5v8.6M288.06,-4.5v8.6M306.95,-4.5v8.6M325.84,-4.5v8.6M344.73,-4.5v8.6M363.62,-4.5v8.6M382.51,-4.5v8.6M439.5,-4.5v8.6M457.65,-4.5v8.6M476.4,-4.5v8.6M168.75,-4.5v8.6M193.4,-4.5v8.6M401.5,-4.5v8.6M420.3,-4.5v8.6" stroke="#8f8b8b" stroke-width="1.9" fill="none"/><path d="M169.75,6 V-39.4 H193.4 V-37.6 H192.4 V6 Z M167.8,-35.4 h2 v1.6 h-2z M172.4,-39.4 v-7.5 h0.7 v7.5z M174.3,-39.4 v-5 h2.6 v5 h-0.8 v-3 h-1 v3z M174.6,-44 l1.6,-4.6 l0.8,0.3 l-1,4.6z" fill="#656766"/><path d="M402.6,6 V-35.85 L405.4,-38.35 H408.5 V-42.5 H411.5 V-38.35 H417.25 L419.4,-35.85 V6 Z" fill="#656766"/><path d="M11.3,-11 V-21.5 H12.5 V-16.5 H13.3 V-12 H14.4 V0.5 H10 V-9.4 H8.5 V-10.8 H10 V-12 H11.3Z" fill="#1f6977"/><path d="M11.6,-8 V0.3 M13,-8 V0.3" stroke="#5f97a2" stroke-width="0.5"/><path d="M14.9,0.6 L17.5,-4.4 H18.5 V0.6Z" fill="#8f8b8b"/><rect x="60" y="4.1" width="436.4" height="3.4" fill="#656766"/><path d="M0,0 C30,0.5 55,1.5 76,5 C82,6 88,6.8 94,6.9 L496.6,6.9 L496.6,24.2 L493.5,27.4 L15.4,27.4 C15.6,20.5 8,11 0,0Z" fill="#165e6e"/><path d="M15.4,27.3 L15.4,29 C12,29 9,29.3 7,29.8 C3,30.8 1,32.5 1,34.8 C1,38 3,40.5 6,42.3 C11,45 20,46.65 30,46.65 L456,46.65 C463,46.65 468,44 474.75,40.4 L474.75,38.5 L471,38.5 C469,38.5 467.9,37 467.9,35.4 L467.9,32.9 C467.9,31.5 469.5,30.4 471,30.4 L474.75,30.4 L479.5,31.65 L485.4,45.15 L489.1,45.15 L493.5,27.3 Z M475,34.8 h1.3 v11.6 h-1.3z" fill="#592a2a"/><circle cx="26.25" cy="2.2" r="1.1" fill="#0b0b0b"/></g></g>
<path d="M1107.4,1839.8 Q1110,1871 1155.9,1883.4" stroke="#222" stroke-width="0.9" fill="none"/>
<path d="M1134.1,1829.2 Q1139,1864 1186.9,1875.6" stroke="#2c2c2c" stroke-width="0.8" fill="none"/>
<path d="M1158,1824.7 Q1163,1847.5 1193.2,1855.2" stroke="#3a3a3a" stroke-width="0.7" fill="none"/>
<path d="M1179.1,1820 Q1183.4,1836 1206.6,1841.2" stroke="#555" stroke-width="0.6" fill="none"/>
<path d="M1197.4,1811.6 Q1201,1825 1215.7,1828.2" stroke="#888" stroke-width="0.5" fill="none"/>
<rect x="1160" y="1932.1" width="31.9" height="29.5" fill="#222"/>
<text transform="translate(1176,1958.1) scale(0.8,1)" font-family='"Liberation Sans", sans-serif' font-size="30.5" font-weight="bold" fill="#fff" text-anchor="middle">B</text>
<rect x="1196" y="1932.1" width="31.9" height="29.5" fill="#222"/>
<text transform="translate(1212,1958.1) scale(0.8,1)" font-family='"Liberation Sans", sans-serif' font-size="30.5" font-weight="bold" fill="#fff" text-anchor="middle">B</text>
<rect x="1232.1" y="1932.1" width="31.9" height="29.5" fill="#222"/>
<text transform="translate(1247.8,1958.1) scale(0.97,1)" font-family='"Liberation Sans", sans-serif' font-size="30.5" font-weight="bold" fill="#fff" text-anchor="middle">C</text>
</svg>
</body></html>
